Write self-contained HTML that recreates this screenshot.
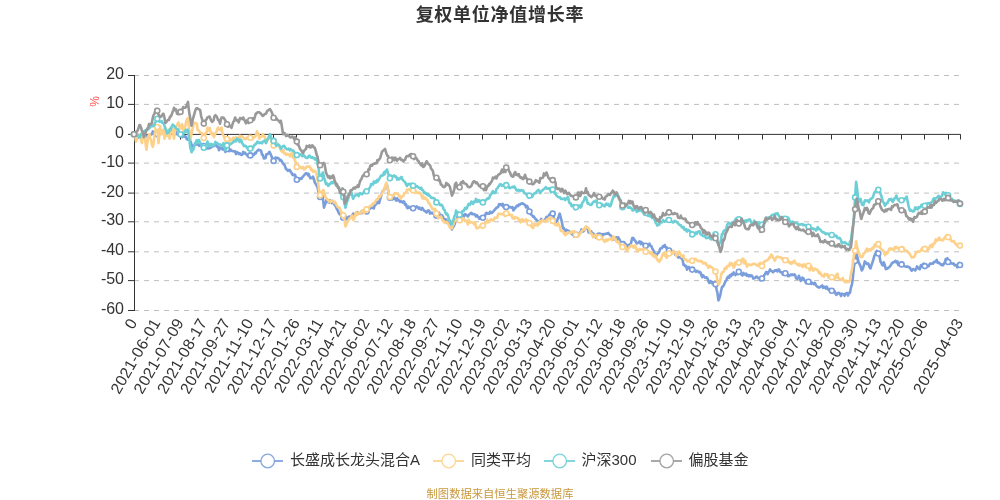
<!DOCTYPE html><html><head><meta charset="utf-8"><style>html,body{margin:0;padding:0;background:#fff;}body{width:1000px;height:500px;overflow:hidden;}svg{display:block;}text{font-family:"Liberation Sans","Noto Sans CJK SC",sans-serif;}</style></head><body>
<svg width="1000" height="500" viewBox="0 0 1000 500">
<rect width="1000" height="500" fill="#fff"/>
<text x="500" y="21" text-anchor="middle" font-size="18" font-weight="bold" letter-spacing="0.75" fill="#333">复权单位净值增长率</text>
<line x1="134" y1="75.5" x2="960" y2="75.5" stroke="#bfbfbf" stroke-width="1" stroke-dasharray="5,5"/>
<line x1="134" y1="104.4" x2="960" y2="104.4" stroke="#bfbfbf" stroke-width="1" stroke-dasharray="5,5"/>
<line x1="134" y1="163.1" x2="960" y2="163.1" stroke="#bfbfbf" stroke-width="1" stroke-dasharray="5,5"/>
<line x1="134" y1="193.1" x2="960" y2="193.1" stroke="#bfbfbf" stroke-width="1" stroke-dasharray="5,5"/>
<line x1="134" y1="221.8" x2="960" y2="221.8" stroke="#bfbfbf" stroke-width="1" stroke-dasharray="5,5"/>
<line x1="134" y1="251.8" x2="960" y2="251.8" stroke="#bfbfbf" stroke-width="1" stroke-dasharray="5,5"/>
<line x1="134" y1="280.6" x2="960" y2="280.6" stroke="#bfbfbf" stroke-width="1" stroke-dasharray="5,5"/>
<line x1="134" y1="310.5" x2="960" y2="310.5" stroke="#bfbfbf" stroke-width="1" stroke-dasharray="5,5"/>
<path d="M134.5 75V311" stroke="#333" stroke-width="1" fill="none"/>
<line x1="128" y1="75.5" x2="134" y2="75.5" stroke="#333" stroke-width="1"/>
<text x="124" y="79.0" text-anchor="end" font-size="16" fill="#333">20</text>
<line x1="128" y1="104.4" x2="134" y2="104.4" stroke="#333" stroke-width="1"/>
<text x="124" y="107.9" text-anchor="end" font-size="16" fill="#333">10</text>
<line x1="128" y1="134.4" x2="134" y2="134.4" stroke="#333" stroke-width="1"/>
<text x="124" y="137.9" text-anchor="end" font-size="16" fill="#333">0</text>
<line x1="128" y1="163.1" x2="134" y2="163.1" stroke="#333" stroke-width="1"/>
<text x="124" y="166.6" text-anchor="end" font-size="16" fill="#333">-10</text>
<line x1="128" y1="193.1" x2="134" y2="193.1" stroke="#333" stroke-width="1"/>
<text x="124" y="196.6" text-anchor="end" font-size="16" fill="#333">-20</text>
<line x1="128" y1="221.8" x2="134" y2="221.8" stroke="#333" stroke-width="1"/>
<text x="124" y="225.3" text-anchor="end" font-size="16" fill="#333">-30</text>
<line x1="128" y1="251.8" x2="134" y2="251.8" stroke="#333" stroke-width="1"/>
<text x="124" y="255.3" text-anchor="end" font-size="16" fill="#333">-40</text>
<line x1="128" y1="280.6" x2="134" y2="280.6" stroke="#333" stroke-width="1"/>
<text x="124" y="284.1" text-anchor="end" font-size="16" fill="#333">-50</text>
<line x1="128" y1="310.5" x2="134" y2="310.5" stroke="#333" stroke-width="1"/>
<text x="124" y="314.0" text-anchor="end" font-size="16" fill="#333">-60</text>
<text transform="translate(99,101.5) rotate(-90)" text-anchor="middle" font-size="12" fill="#f55">%</text>
<path d="M134 134.4H960.5" stroke="#333" stroke-width="1" fill="none"/>
<line x1="134.5" y1="134.4" x2="134.5" y2="139.5" stroke="#333" stroke-width="1"/>
<line x1="157.5" y1="134.4" x2="157.5" y2="139.5" stroke="#333" stroke-width="1"/>
<line x1="180.5" y1="134.4" x2="180.5" y2="139.5" stroke="#333" stroke-width="1"/>
<line x1="203.5" y1="134.4" x2="203.5" y2="139.5" stroke="#333" stroke-width="1"/>
<line x1="227.5" y1="134.4" x2="227.5" y2="139.5" stroke="#333" stroke-width="1"/>
<line x1="250.5" y1="134.4" x2="250.5" y2="139.5" stroke="#333" stroke-width="1"/>
<line x1="273.5" y1="134.4" x2="273.5" y2="139.5" stroke="#333" stroke-width="1"/>
<line x1="296.5" y1="134.4" x2="296.5" y2="139.5" stroke="#333" stroke-width="1"/>
<line x1="320.5" y1="134.4" x2="320.5" y2="139.5" stroke="#333" stroke-width="1"/>
<line x1="343.5" y1="134.4" x2="343.5" y2="139.5" stroke="#333" stroke-width="1"/>
<line x1="366.5" y1="134.4" x2="366.5" y2="139.5" stroke="#333" stroke-width="1"/>
<line x1="389.5" y1="134.4" x2="389.5" y2="139.5" stroke="#333" stroke-width="1"/>
<line x1="413.5" y1="134.4" x2="413.5" y2="139.5" stroke="#333" stroke-width="1"/>
<line x1="436.5" y1="134.4" x2="436.5" y2="139.5" stroke="#333" stroke-width="1"/>
<line x1="459.5" y1="134.4" x2="459.5" y2="139.5" stroke="#333" stroke-width="1"/>
<line x1="482.5" y1="134.4" x2="482.5" y2="139.5" stroke="#333" stroke-width="1"/>
<line x1="506.5" y1="134.4" x2="506.5" y2="139.5" stroke="#333" stroke-width="1"/>
<line x1="529.5" y1="134.4" x2="529.5" y2="139.5" stroke="#333" stroke-width="1"/>
<line x1="552.5" y1="134.4" x2="552.5" y2="139.5" stroke="#333" stroke-width="1"/>
<line x1="575.5" y1="134.4" x2="575.5" y2="139.5" stroke="#333" stroke-width="1"/>
<line x1="599.5" y1="134.4" x2="599.5" y2="139.5" stroke="#333" stroke-width="1"/>
<line x1="622.5" y1="134.4" x2="622.5" y2="139.5" stroke="#333" stroke-width="1"/>
<line x1="645.5" y1="134.4" x2="645.5" y2="139.5" stroke="#333" stroke-width="1"/>
<line x1="668.5" y1="134.4" x2="668.5" y2="139.5" stroke="#333" stroke-width="1"/>
<line x1="692.5" y1="134.4" x2="692.5" y2="139.5" stroke="#333" stroke-width="1"/>
<line x1="715.5" y1="134.4" x2="715.5" y2="139.5" stroke="#333" stroke-width="1"/>
<line x1="738.5" y1="134.4" x2="738.5" y2="139.5" stroke="#333" stroke-width="1"/>
<line x1="762.5" y1="134.4" x2="762.5" y2="139.5" stroke="#333" stroke-width="1"/>
<line x1="785.5" y1="134.4" x2="785.5" y2="139.5" stroke="#333" stroke-width="1"/>
<line x1="808.5" y1="134.4" x2="808.5" y2="139.5" stroke="#333" stroke-width="1"/>
<line x1="831.5" y1="134.4" x2="831.5" y2="139.5" stroke="#333" stroke-width="1"/>
<line x1="855.5" y1="134.4" x2="855.5" y2="139.5" stroke="#333" stroke-width="1"/>
<line x1="878.5" y1="134.4" x2="878.5" y2="139.5" stroke="#333" stroke-width="1"/>
<line x1="901.5" y1="134.4" x2="901.5" y2="139.5" stroke="#333" stroke-width="1"/>
<line x1="924.5" y1="134.4" x2="924.5" y2="139.5" stroke="#333" stroke-width="1"/>
<line x1="948.5" y1="134.4" x2="948.5" y2="139.5" stroke="#333" stroke-width="1"/>
<line x1="960.5" y1="134.4" x2="960.5" y2="139.5" stroke="#333" stroke-width="1"/>
<polyline points="134.0,134.2 134.9,133.2 135.8,132.6 136.7,134.1 137.6,136.1 138.5,137.8 139.4,137.6 140.0,137.2 141.2,138.2 142.1,139.1 142.9,137.6 143.8,136.7 144.7,135.6 146.0,135.7 146.5,136.6 147.4,135.9 148.3,135.5 149.2,136.9 150.1,135.2 151.0,134.4 152.0,134.2 152.8,131.4 153.7,132.5 154.6,133.4 155.5,132.4 156.4,133.0 157.3,134.2 158.2,132.7 159.1,133.5 159.9,133.2 160.8,131.9 161.7,131.5 163.0,132.8 163.5,132.5 164.4,134.2 165.3,133.5 166.2,133.7 167.1,133.1 168.0,134.2 168.9,133.6 169.8,132.3 170.7,132.8 171.6,132.7 172.5,132.0 173.4,133.6 174.0,132.8 175.2,133.6 176.1,134.2 177.0,131.6 177.8,132.8 178.8,132.6 179.6,132.6 180.5,134.2 181.4,134.8 182.3,137.1 183.2,135.6 184.1,136.6 185.0,136.0 186.0,137.2 186.8,139.2 187.7,139.7 188.6,138.3 189.5,137.6 190.0,140.1 191.3,143.8 192.2,146.6 193.0,146.0 194.0,146.1 194.8,144.8 195.8,144.7 196.6,144.3 198.0,144.5 199.3,145.9 200.2,145.0 201.1,143.9 202.0,145.3 202.9,147.3 203.8,146.0 204.7,147.5 205.6,146.4 206.5,148.8 207.4,148.4 208.0,147.5 209.2,148.5 210.1,147.9 211.0,147.5 211.9,146.9 212.8,144.8 214.0,146.0 214.5,145.4 215.4,144.4 216.3,145.6 217.2,146.8 218.1,146.6 219.0,150.3 220.0,147.5 220.8,148.2 221.7,147.9 222.6,149.5 223.5,148.5 224.4,149.2 225.3,151.9 226.2,150.9 227.0,148.9 228.0,150.8 228.9,151.1 229.8,151.0 230.7,149.5 232.0,151.0 233.3,151.1 234.2,151.5 235.1,151.4 236.0,154.0 236.9,152.0 238.0,152.8 238.7,154.0 239.6,153.1 240.5,154.4 241.4,155.0 242.3,154.7 243.2,151.9 244.0,153.3 245.0,152.6 245.9,154.1 246.8,154.7 247.7,156.1 248.6,155.7 249.4,156.3 250.3,155.4 251.2,154.2 252.1,155.6 253.0,154.9 253.9,154.9 255.0,152.8 255.7,153.4 256.6,151.5 257.5,150.8 258.4,149.7 259.0,150.1 260.2,150.2 261.1,150.8 262.0,154.6 262.9,155.0 263.8,158.5 265.0,158.3 265.6,157.9 266.4,154.2 267.3,154.1 268.2,153.6 269.5,151.9 270.0,152.8 270.9,154.9 271.8,156.9 272.7,159.8 273.6,161.0 274.5,159.0 275.4,157.6 276.3,157.8 277.0,157.8 278.1,158.3 279.0,158.7 280.0,160.7 280.8,160.0 281.7,161.1 283.0,163.6 284.3,164.6 285.2,166.7 286.1,169.3 287.0,169.5 287.9,170.9 288.8,170.1 289.7,169.9 291.0,172.4 291.5,172.6 292.4,174.6 293.3,175.2 294.2,174.5 295.1,174.9 296.0,178.1 296.8,179.8 297.8,179.3 298.7,180.6 300.0,178.3 301.4,178.9 302.2,177.3 303.1,176.3 304.0,175.4 304.9,174.3 305.8,173.3 306.7,173.2 308.0,175.4 308.5,173.8 309.4,176.0 310.3,178.2 311.2,177.7 312.0,178.3 313.0,176.6 313.9,178.9 314.8,182.6 316.0,184.2 316.6,185.7 317.5,187.0 318.4,191.8 319.2,193.6 320.1,197.1 321.0,195.7 322.0,193.0 322.8,197.7 324.0,207.7 324.6,205.3 325.5,203.7 326.4,200.1 327.0,201.8 328.2,201.8 329.1,202.6 330.0,200.1 331.0,201.8 331.8,203.1 332.7,200.9 333.6,202.5 334.5,204.9 335.0,204.8 336.2,207.6 337.1,209.4 338.0,211.2 339.0,213.6 339.8,214.5 340.7,214.0 341.6,218.1 342.5,218.7 343.3,217.7 344.3,219.3 345.0,219.4 346.1,216.6 347.0,219.2 347.9,218.4 349.0,216.5 349.7,217.9 350.6,217.7 351.5,216.0 352.4,215.3 353.2,213.5 354.1,214.9 355.0,215.0 355.9,214.4 356.8,212.9 357.7,212.3 358.6,213.3 360.0,213.6 361.3,211.7 362.2,213.2 363.1,210.6 364.0,211.1 364.9,211.5 365.8,211.1 366.6,211.5 367.6,209.7 368.5,207.5 369.4,208.3 370.3,208.6 371.1,207.4 372.0,207.7 372.9,207.7 373.8,208.4 374.7,205.4 375.6,204.8 376.5,202.3 377.4,203.1 378.0,201.8 379.2,203.0 380.1,199.3 381.0,196.7 381.9,192.7 382.8,191.0 384.0,190.1 384.6,188.5 385.5,186.6 386.4,186.0 387.0,185.1 388.1,190.1 389.1,195.7 389.9,198.0 390.8,197.8 391.7,199.1 392.6,199.4 393.5,198.3 394.4,197.5 395.0,198.9 396.2,200.6 397.1,198.3 398.0,200.3 398.9,200.0 400.0,201.8 400.7,200.9 401.6,201.8 402.5,202.5 403.4,201.3 404.3,201.9 405.0,204.8 406.1,204.4 406.9,207.5 407.8,208.2 408.7,206.6 410.0,207.7 410.5,207.5 411.4,208.9 412.3,209.4 413.1,208.3 414.1,208.7 415.0,207.6 415.9,207.2 416.8,206.3 418.0,207.7 418.6,208.7 419.5,207.6 420.4,209.0 421.3,209.7 422.2,207.9 423.1,209.1 424.0,210.6 424.9,211.0 425.7,211.7 426.6,212.5 427.5,210.8 428.4,210.3 429.3,211.0 430.0,213.6 431.1,213.3 432.0,212.7 432.9,213.7 433.8,213.8 434.7,214.1 435.6,214.7 436.4,215.6 437.4,213.8 438.3,212.8 439.2,212.8 440.1,216.7 441.0,216.5 441.9,215.2 442.7,216.2 443.6,218.5 444.5,219.7 445.4,219.3 446.3,219.5 447.0,222.4 448.1,222.6 449.0,224.3 449.9,225.9 450.8,226.5 452.0,229.4 452.6,227.8 453.5,226.7 454.4,224.8 455.3,222.1 456.0,219.4 457.1,218.7 458.0,215.7 458.9,218.1 459.6,217.7 460.6,216.8 461.5,217.0 462.4,216.5 463.3,214.8 464.0,216.5 465.1,214.2 466.0,214.7 466.9,215.3 467.8,216.4 468.7,215.2 470.0,213.6 471.4,212.9 472.3,214.3 473.2,214.1 474.1,214.1 475.0,214.7 476.0,216.5 476.8,215.1 477.6,216.1 478.5,217.5 479.4,218.8 480.3,217.1 481.2,217.7 482.1,218.1 482.9,217.7 483.9,216.0 484.8,216.6 485.7,213.6 486.6,212.9 487.5,213.6 488.0,213.6 489.3,213.6 490.2,211.6 491.1,213.0 492.0,212.9 492.9,211.9 494.0,210.6 494.6,209.9 495.5,209.0 496.4,207.7 497.3,207.5 498.2,206.7 499.1,204.2 500.0,204.8 500.9,204.1 501.8,205.4 502.7,203.8 503.6,207.3 504.5,207.0 505.4,206.3 506.2,207.1 507.2,206.0 508.1,206.5 509.0,207.4 509.9,206.8 510.8,207.4 512.0,207.7 512.5,207.0 513.4,210.4 514.3,208.3 515.2,208.5 516.1,206.5 517.0,205.5 518.0,206.2 518.8,204.6 519.7,204.9 520.6,203.8 521.5,203.7 522.0,203.3 523.3,203.7 524.2,204.4 525.0,204.8 526.0,207.3 526.9,205.8 527.8,207.2 528.6,211.8 529.4,211.5 530.4,211.8 531.3,214.8 532.2,215.5 533.1,216.7 534.0,216.5 534.9,218.5 535.8,218.9 536.7,220.3 537.6,220.9 538.5,222.7 539.4,221.9 540.3,221.0 541.2,218.9 542.0,220.9 543.0,220.3 543.9,221.0 544.8,220.1 546.0,218.0 546.5,216.9 547.5,217.3 548.3,216.9 549.0,215.0 550.1,214.1 551.0,214.0 551.9,213.5 552.7,213.6 553.7,217.1 554.6,220.3 555.5,222.7 556.0,223.0 557.3,220.1 558.2,218.0 559.1,215.0 559.7,213.6 560.9,218.1 561.8,221.8 563.0,228.2 563.6,227.8 564.5,229.6 565.4,231.1 566.2,229.8 567.1,230.2 568.0,230.6 569.0,231.2 569.8,232.9 570.7,233.0 571.6,233.8 572.5,234.7 573.4,235.1 574.3,236.5 575.2,235.7 576.0,234.7 577.0,233.0 577.9,233.8 578.8,233.1 579.7,233.8 580.6,232.0 581.5,229.3 582.0,231.2 583.2,231.5 584.1,230.8 585.0,228.2 585.9,227.8 587.0,228.2 587.7,228.8 588.6,232.4 589.5,232.6 590.4,231.9 591.3,231.4 592.0,234.1 593.1,233.3 594.0,234.6 594.9,235.6 595.8,237.5 596.7,237.8 597.6,235.4 598.5,235.7 599.2,235.6 600.2,236.9 601.1,234.4 602.0,236.5 602.9,234.0 603.8,234.5 605.0,234.1 605.6,233.9 606.5,233.5 607.4,233.8 608.3,233.0 609.2,234.1 610.1,235.1 611.0,235.6 611.9,237.0 612.8,239.0 613.7,239.5 614.6,238.1 615.5,237.9 616.4,237.3 617.0,240.0 618.1,237.3 619.0,238.7 619.9,240.1 620.8,243.2 621.7,244.0 622.5,244.1 623.5,242.0 624.4,242.8 625.3,244.1 626.2,244.5 627.1,247.4 627.6,245.9 628.9,245.0 629.8,244.5 630.7,244.5 631.6,240.5 632.4,237.9 633.4,238.1 634.2,239.7 635.1,240.5 636.0,242.1 636.9,243.5 637.8,242.9 638.7,242.4 639.6,241.3 640.8,244.1 641.4,242.1 642.3,242.9 643.2,244.1 644.1,245.8 645.0,246.6 645.8,245.9 646.8,245.3 647.7,244.9 648.6,245.3 649.5,243.6 650.4,245.9 651.3,246.1 652.1,248.0 653.0,249.9 653.9,251.3 654.8,253.9 655.7,255.9 656.4,255.3 657.5,253.5 658.4,252.9 659.3,251.7 660.2,248.6 661.2,248.2 662.0,248.1 662.9,246.2 663.8,246.7 664.7,245.0 665.4,247.1 666.5,247.2 667.4,250.5 668.3,249.2 669.1,250.6 670.0,250.9 670.9,253.2 671.8,252.1 673.2,251.2 674.5,252.5 675.4,254.9 676.8,254.7 678.1,257.4 679.0,257.5 679.9,257.1 680.8,257.8 681.7,258.6 682.6,259.7 683.5,265.0 684.0,264.4 685.3,266.3 686.2,266.1 687.0,269.7 688.0,267.8 688.8,266.9 689.7,268.7 690.6,269.4 691.5,270.7 692.3,269.7 693.3,270.2 694.2,270.3 695.1,270.5 696.0,271.9 697.0,270.8 697.8,271.2 698.7,272.3 699.6,271.8 700.5,272.5 701.4,275.3 702.3,277.1 703.0,275.2 704.1,276.5 705.0,277.6 705.9,277.5 706.7,277.4 707.6,278.6 708.5,281.5 709.4,283.0 710.0,281.1 711.2,281.5 712.1,283.4 713.0,282.1 713.9,283.1 714.8,283.1 715.6,284.4 716.6,289.6 717.5,293.3 718.4,300.4 719.0,299.3 720.2,295.4 721.1,290.7 722.0,287.0 722.9,286.5 723.7,285.5 724.6,283.3 725.5,281.2 726.4,280.4 727.0,278.2 728.2,276.5 729.1,277.9 730.0,275.1 730.9,276.2 732.0,273.8 732.7,274.8 733.6,272.4 734.5,273.7 735.4,275.1 736.3,273.7 737.2,274.0 738.1,274.2 738.9,271.7 739.9,273.3 740.8,274.0 741.6,274.8 742.5,275.5 743.4,272.9 744.0,273.8 745.2,274.8 746.1,273.5 747.0,275.7 747.9,274.8 748.8,276.4 750.0,275.2 750.6,276.2 751.5,275.3 752.4,276.3 753.3,278.6 754.2,278.3 755.1,277.8 756.0,276.7 756.9,276.5 757.8,278.1 758.6,278.3 759.5,278.1 760.4,280.2 761.3,279.6 762.1,278.5 763.1,278.1 764.0,275.6 764.9,274.2 766.0,272.3 766.7,272.0 767.6,274.1 768.5,272.2 769.4,271.2 770.0,269.4 771.2,271.0 772.1,271.2 773.0,272.3 773.9,271.3 774.8,270.3 776.0,270.8 776.5,270.2 777.4,271.4 778.3,269.6 779.2,269.6 780.1,271.9 781.0,272.2 782.0,272.3 782.8,274.5 783.7,274.0 784.6,272.8 785.4,273.2 786.4,272.1 787.3,273.7 788.2,276.3 789.1,276.1 790.0,275.2 790.9,274.3 791.8,275.2 792.6,274.5 793.5,274.9 794.4,274.4 795.3,275.5 796.0,278.2 797.1,278.9 798.0,278.4 798.9,275.8 799.8,278.0 800.7,280.9 802.0,279.7 802.5,277.6 803.4,278.4 804.3,280.2 805.2,281.2 806.1,283.1 807.0,281.5 807.9,281.5 808.7,281.7 809.7,282.9 810.5,283.4 811.5,283.9 812.3,282.6 813.2,283.6 814.0,284.1 815.0,282.9 815.9,285.1 816.8,286.2 817.7,286.9 818.6,287.5 819.5,287.5 820.0,287.0 821.3,286.2 822.2,285.5 823.1,287.9 824.0,286.6 824.9,287.3 826.0,288.5 826.7,286.7 827.5,288.2 828.5,289.9 829.3,289.1 830.2,289.1 831.1,290.4 831.9,290.8 832.9,291.1 833.8,291.3 834.7,291.3 835.6,293.8 836.5,294.8 837.4,293.9 838.0,292.9 839.2,293.1 840.1,293.9 841.0,296.0 841.9,293.6 842.8,294.3 844.0,294.3 844.6,295.8 845.5,293.6 846.4,293.1 847.2,293.0 848.0,295.5 849.0,292.8 850.0,292.9 850.8,288.1 851.7,285.4 852.5,281.1 854.0,266.4 855.2,260.3 856.2,256.4 856.7,254.4 858.0,259.4 858.5,262.0 859.8,264.6 860.7,266.8 861.7,270.5 862.5,269.3 863.4,267.0 864.2,264.2 864.8,261.4 866.0,262.6 866.9,263.9 868.3,263.5 869.6,267.2 870.5,268.5 871.1,266.4 872.3,262.9 873.2,260.2 874.1,256.8 875.3,253.8 875.9,254.7 876.7,250.9 877.7,253.3 878.5,253.8 879.5,255.9 880.4,261.4 881.6,263.5 882.1,264.8 883.0,265.5 883.7,262.3 884.8,265.0 885.8,269.1 886.6,268.4 887.5,268.6 888.4,267.6 889.3,267.1 890.0,266.4 891.1,264.7 892.0,263.2 892.9,262.4 893.8,262.4 894.7,261.6 895.6,260.9 896.3,262.3 897.4,261.4 898.2,265.0 899.0,264.4 900.0,264.2 900.9,264.2 901.7,264.4 902.7,264.8 903.6,265.7 905.0,266.4 906.3,266.9 907.2,266.6 908.1,266.8 909.0,267.2 910.0,267.9 910.8,269.4 911.7,270.7 913.0,269.1 914.4,269.4 915.2,270.4 916.1,269.1 917.0,266.4 917.9,267.4 918.8,268.6 919.7,269.3 921.0,265.0 921.5,266.3 922.4,266.7 923.3,263.8 924.2,263.9 925.0,266.1 926.0,266.2 926.9,266.1 927.8,266.4 928.7,266.1 930.0,263.5 931.4,263.8 932.3,263.3 933.1,263.6 934.0,261.9 935.0,262.0 935.8,261.5 936.7,259.8 937.6,262.8 938.5,262.3 939.4,263.3 940.0,263.5 941.2,265.0 942.1,264.3 943.0,265.3 943.9,263.9 945.0,262.0 945.7,259.1 946.6,258.9 947.5,258.2 948.3,262.0 949.3,260.4 950.2,263.5 951.0,263.0 952.0,263.5 952.8,263.6 953.7,263.5 954.6,265.3 956.0,265.0 957.3,267.4 958.2,263.9 959.1,263.0 960.0,265.0" fill="none" stroke="#7a9edb" stroke-width="2.6" stroke-linejoin="round"/>
<circle cx="134.0" cy="134.2" r="2.5" fill="#fff" stroke="#7a9edb" stroke-width="1.6"/>
<circle cx="157.3" cy="134.2" r="2.5" fill="#fff" stroke="#7a9edb" stroke-width="1.6"/>
<circle cx="180.5" cy="134.3" r="2.5" fill="#fff" stroke="#7a9edb" stroke-width="1.6"/>
<circle cx="203.8" cy="146.0" r="2.5" fill="#fff" stroke="#7a9edb" stroke-width="1.6"/>
<circle cx="227.0" cy="149.0" r="2.5" fill="#fff" stroke="#7a9edb" stroke-width="1.6"/>
<circle cx="250.3" cy="155.4" r="2.5" fill="#fff" stroke="#7a9edb" stroke-width="1.6"/>
<circle cx="273.6" cy="160.9" r="2.5" fill="#fff" stroke="#7a9edb" stroke-width="1.6"/>
<circle cx="296.8" cy="179.8" r="2.5" fill="#fff" stroke="#7a9edb" stroke-width="1.6"/>
<circle cx="320.1" cy="197.0" r="2.5" fill="#fff" stroke="#7a9edb" stroke-width="1.6"/>
<circle cx="343.3" cy="217.7" r="2.5" fill="#fff" stroke="#7a9edb" stroke-width="1.6"/>
<circle cx="366.6" cy="211.5" r="2.5" fill="#fff" stroke="#7a9edb" stroke-width="1.6"/>
<circle cx="389.9" cy="197.8" r="2.5" fill="#fff" stroke="#7a9edb" stroke-width="1.6"/>
<circle cx="413.1" cy="208.3" r="2.5" fill="#fff" stroke="#7a9edb" stroke-width="1.6"/>
<circle cx="436.4" cy="215.6" r="2.5" fill="#fff" stroke="#7a9edb" stroke-width="1.6"/>
<circle cx="459.6" cy="217.7" r="2.5" fill="#fff" stroke="#7a9edb" stroke-width="1.6"/>
<circle cx="482.9" cy="217.7" r="2.5" fill="#fff" stroke="#7a9edb" stroke-width="1.6"/>
<circle cx="506.2" cy="207.1" r="2.5" fill="#fff" stroke="#7a9edb" stroke-width="1.6"/>
<circle cx="529.4" cy="211.5" r="2.5" fill="#fff" stroke="#7a9edb" stroke-width="1.6"/>
<circle cx="552.7" cy="213.6" r="2.5" fill="#fff" stroke="#7a9edb" stroke-width="1.6"/>
<circle cx="575.9" cy="234.7" r="2.5" fill="#fff" stroke="#7a9edb" stroke-width="1.6"/>
<circle cx="599.2" cy="235.6" r="2.5" fill="#fff" stroke="#7a9edb" stroke-width="1.6"/>
<circle cx="622.5" cy="244.1" r="2.5" fill="#fff" stroke="#7a9edb" stroke-width="1.6"/>
<circle cx="645.7" cy="245.8" r="2.5" fill="#fff" stroke="#7a9edb" stroke-width="1.6"/>
<circle cx="669.0" cy="250.5" r="2.5" fill="#fff" stroke="#7a9edb" stroke-width="1.6"/>
<circle cx="692.2" cy="269.6" r="2.5" fill="#fff" stroke="#7a9edb" stroke-width="1.6"/>
<circle cx="715.5" cy="284.3" r="2.5" fill="#fff" stroke="#7a9edb" stroke-width="1.6"/>
<circle cx="738.8" cy="271.8" r="2.5" fill="#fff" stroke="#7a9edb" stroke-width="1.6"/>
<circle cx="762.0" cy="278.5" r="2.5" fill="#fff" stroke="#7a9edb" stroke-width="1.6"/>
<circle cx="785.3" cy="273.2" r="2.5" fill="#fff" stroke="#7a9edb" stroke-width="1.6"/>
<circle cx="808.5" cy="281.7" r="2.5" fill="#fff" stroke="#7a9edb" stroke-width="1.6"/>
<circle cx="831.8" cy="290.8" r="2.5" fill="#fff" stroke="#7a9edb" stroke-width="1.6"/>
<circle cx="855.1" cy="261.0" r="2.5" fill="#fff" stroke="#7a9edb" stroke-width="1.6"/>
<circle cx="878.3" cy="253.5" r="2.5" fill="#fff" stroke="#7a9edb" stroke-width="1.6"/>
<circle cx="901.6" cy="264.4" r="2.5" fill="#fff" stroke="#7a9edb" stroke-width="1.6"/>
<circle cx="924.8" cy="266.1" r="2.5" fill="#fff" stroke="#7a9edb" stroke-width="1.6"/>
<circle cx="948.1" cy="262.0" r="2.5" fill="#fff" stroke="#7a9edb" stroke-width="1.6"/>
<circle cx="960.0" cy="265.0" r="2.5" fill="#fff" stroke="#7a9edb" stroke-width="1.6"/>
<polyline points="134.0,134.2 134.9,134.4 136.0,141.6 136.7,139.5 138.0,134.2 139.4,135.8 140.0,137.2 141.2,140.3 142.0,143.1 142.9,135.4 143.5,132.8 145.0,137.2 145.6,144.3 146.5,149.8 147.4,142.9 148.0,137.2 149.5,134.2 150.1,137.7 151.0,140.1 151.9,144.8 153.0,146.9 153.7,142.4 154.5,134.2 155.5,131.3 156.0,128.4 157.3,126.9 158.5,143.1 159.1,137.2 160.0,126.3 160.8,132.1 161.5,134.2 163.0,129.8 163.5,132.5 164.5,138.7 165.3,133.7 166.0,128.4 167.1,136.0 168.0,134.2 168.9,136.0 169.5,138.7 171.0,131.3 171.6,130.6 172.5,128.4 173.4,135.5 174.0,138.7 175.5,126.9 176.1,126.1 177.0,125.4 177.8,123.4 178.5,122.5 179.6,127.4 180.5,131.3 181.4,127.9 182.0,124.0 183.2,127.5 184.0,129.8 185.0,128.2 186.0,122.5 186.8,119.2 188.0,118.1 188.6,124.8 189.5,132.4 190.4,139.5 191.3,135.2 192.0,131.3 193.1,126.5 194.0,122.8 194.8,123.4 195.8,123.0 197.0,124.0 197.5,129.9 198.4,130.1 199.3,131.2 200.2,133.0 200.8,132.5 202.0,133.2 202.9,137.0 203.8,138.1 204.7,135.7 205.5,132.8 206.5,133.1 207.5,127.5 208.3,128.1 209.2,130.6 210.0,128.4 211.0,133.9 212.0,134.2 212.8,132.8 214.0,137.2 214.5,134.8 215.4,133.6 216.0,132.8 217.2,129.4 218.0,127.5 219.0,129.6 219.9,130.2 220.8,128.6 221.6,127.5 222.6,134.2 223.5,135.6 224.8,138.7 226.2,141.6 227.0,138.9 228.0,140.4 228.9,142.8 229.6,141.6 230.7,139.1 232.0,140.1 233.3,137.7 234.2,138.5 235.1,140.6 236.0,137.2 236.9,138.5 237.8,137.7 238.7,138.3 240.0,135.7 241.4,136.9 242.3,136.3 243.2,137.7 244.0,138.7 245.0,139.2 245.9,137.9 246.8,138.6 247.7,137.3 248.6,138.2 249.4,136.0 250.3,137.8 251.2,137.9 252.1,139.2 253.0,138.3 254.0,137.2 254.8,136.8 255.7,135.9 257.0,131.3 257.5,133.0 258.4,133.6 259.3,138.6 260.0,137.2 261.1,136.8 262.0,136.0 263.0,134.2 263.8,136.2 264.7,136.9 266.0,140.1 267.3,141.0 268.2,138.8 269.1,138.5 270.0,137.2 270.9,139.5 271.8,142.0 272.7,144.5 273.6,145.7 274.5,146.8 275.4,146.0 276.3,143.3 277.2,143.3 278.0,146.0 279.0,146.0 279.9,147.4 280.8,150.1 282.0,151.9 282.6,151.6 283.4,149.9 284.3,153.8 285.2,153.4 286.0,154.8 287.0,153.8 287.9,154.5 288.8,154.4 290.0,156.3 290.6,154.6 291.5,153.1 292.4,153.7 293.0,157.8 294.2,157.9 295.1,160.9 296.0,162.9 296.8,166.9 297.8,166.3 298.7,166.1 300.0,166.6 301.4,168.2 302.2,167.7 303.1,166.8 304.0,169.5 304.9,168.8 305.8,167.9 306.7,166.6 308.0,166.6 308.5,166.8 309.4,166.4 310.3,167.3 311.2,170.0 312.0,169.5 313.0,171.8 313.9,170.9 314.8,170.7 316.0,172.4 316.6,174.0 317.5,179.5 318.4,184.7 319.2,192.3 320.1,195.3 321.0,192.1 321.9,192.5 323.0,190.1 323.7,190.4 324.6,194.5 325.5,197.0 326.4,198.2 327.0,198.9 328.2,200.5 329.1,201.8 330.0,200.7 331.0,201.8 331.8,200.9 332.7,200.8 333.6,201.8 334.5,202.9 335.0,201.8 336.2,204.5 337.1,206.2 338.0,207.0 339.0,207.7 339.8,208.2 340.7,210.4 341.6,213.1 342.5,215.1 343.3,215.0 344.3,218.8 345.5,226.5 346.1,224.9 347.0,223.0 347.9,221.1 349.0,219.4 349.7,218.2 350.6,218.0 351.5,216.3 352.4,215.7 353.2,220.0 354.1,218.6 355.0,216.5 355.9,212.3 356.8,215.1 357.7,214.6 358.6,212.8 360.0,213.6 361.3,212.5 362.2,210.3 363.1,212.3 364.0,213.1 364.9,211.9 365.8,211.7 366.6,209.4 367.6,210.3 368.5,208.0 369.4,206.8 370.3,206.1 371.1,205.9 372.0,204.8 372.9,203.6 373.8,203.0 374.7,203.1 375.6,201.1 376.5,199.8 377.4,199.0 378.0,198.9 379.2,196.1 380.1,196.7 381.0,195.2 381.9,194.2 382.8,190.7 384.0,190.1 384.6,188.4 385.5,184.6 386.4,182.7 387.0,185.7 388.1,190.0 389.1,195.1 389.9,197.1 390.8,195.9 391.7,195.8 392.6,195.2 393.5,195.8 394.4,193.5 395.0,193.0 396.2,193.5 397.1,193.6 398.0,194.0 398.9,196.1 400.0,195.9 400.7,198.6 401.6,197.1 402.5,196.5 403.4,195.7 404.3,193.1 405.0,193.0 406.1,192.5 406.9,189.9 407.8,190.0 408.7,189.2 410.0,190.1 410.5,189.2 411.4,188.6 412.3,191.1 413.1,190.4 414.1,189.6 415.0,190.5 415.9,192.7 416.8,192.0 418.0,193.0 418.6,193.1 419.5,192.5 420.4,193.3 421.3,194.6 422.2,198.3 423.1,196.4 424.0,198.9 424.9,197.5 425.7,198.3 426.6,199.6 427.5,199.7 428.4,202.9 429.3,203.0 430.0,204.8 431.1,206.1 432.0,208.7 432.9,208.9 433.8,209.6 434.7,208.8 435.6,209.8 436.4,213.6 437.4,215.9 438.3,218.3 439.2,217.4 440.1,217.3 441.0,216.5 441.9,218.8 442.7,220.9 443.6,220.8 444.5,222.5 445.4,223.1 446.3,221.8 447.0,222.4 448.1,223.4 449.0,225.6 449.9,227.7 450.8,228.2 452.0,228.2 452.6,224.9 453.5,224.5 454.4,220.5 455.3,220.7 456.0,219.4 457.1,219.9 458.0,219.1 458.9,220.7 459.6,220.3 460.6,220.1 461.5,221.7 462.4,219.9 463.3,218.1 464.0,219.4 465.1,220.6 466.0,220.5 466.9,221.5 467.8,224.5 468.7,219.9 470.0,222.4 471.4,222.2 472.3,222.3 473.2,223.2 474.1,224.3 475.0,222.3 476.0,226.8 476.8,228.5 477.6,227.9 478.5,227.7 479.4,227.2 480.3,225.7 481.2,226.6 482.1,227.9 482.9,225.6 483.9,226.8 484.8,224.8 485.7,222.8 486.6,221.6 487.5,219.7 488.0,222.4 489.3,221.9 490.2,220.1 491.1,219.3 492.0,219.8 492.9,220.6 494.0,219.4 494.6,217.7 495.5,218.3 496.4,217.6 497.3,217.8 498.2,213.9 499.1,213.7 500.0,213.6 500.9,214.1 501.8,214.1 502.7,214.1 503.6,213.6 504.5,215.7 505.4,216.2 506.2,213.3 507.2,213.4 508.1,212.3 509.0,214.6 509.9,214.5 510.8,215.5 512.0,215.0 512.5,218.4 513.4,217.9 514.3,218.8 515.2,216.9 516.1,217.5 517.0,217.8 518.0,218.0 518.8,220.4 519.7,219.7 520.6,222.3 521.5,221.1 522.4,219.1 523.3,221.6 524.0,220.9 525.1,220.4 526.0,219.3 526.9,221.0 527.8,220.3 528.6,221.4 529.4,223.0 530.4,223.9 531.3,226.7 532.2,227.2 533.1,228.2 534.0,223.8 535.0,225.3 535.8,224.4 536.7,224.4 537.6,225.8 538.5,222.3 539.4,224.0 540.3,221.2 541.0,222.4 542.1,220.2 543.0,220.4 543.9,221.3 544.8,220.8 545.7,222.0 547.0,219.4 548.3,219.2 549.2,217.5 550.1,217.7 551.0,217.7 551.9,220.1 552.7,220.9 553.7,221.4 554.6,223.9 555.5,225.0 556.4,224.4 557.0,225.3 558.2,223.1 559.1,225.4 560.0,227.1 560.9,231.0 561.8,230.8 563.0,231.2 563.6,232.7 564.5,234.1 565.4,235.2 566.2,233.7 567.1,233.7 568.0,232.3 569.0,232.7 569.8,233.2 570.7,233.3 571.6,231.6 572.5,231.6 573.4,231.8 574.3,231.1 575.2,232.5 576.0,234.7 577.0,235.1 577.9,235.2 578.8,236.0 579.7,233.7 580.6,233.2 581.5,231.5 582.0,231.2 583.2,229.1 584.1,229.9 585.0,228.7 585.9,226.3 587.0,227.1 587.7,227.7 588.6,227.9 589.5,230.1 590.4,232.8 591.3,234.0 592.0,234.1 593.1,237.3 594.0,235.5 594.9,236.4 595.8,234.6 596.7,237.2 597.6,237.0 598.5,236.8 599.2,237.4 600.0,236.8 601.1,237.6 602.0,237.4 602.9,239.0 603.8,240.5 604.7,242.0 606.0,239.7 606.5,240.7 607.4,240.8 608.3,239.2 609.2,239.0 610.1,239.1 611.0,239.0 611.9,240.3 613.2,236.2 614.6,238.8 615.5,238.8 616.4,241.5 617.2,242.1 618.1,241.6 619.2,242.9 619.9,244.7 620.8,245.2 621.7,246.8 622.5,247.1 623.5,244.8 624.4,245.2 625.3,246.0 626.2,249.4 627.0,251.2 628.0,248.7 628.9,248.2 629.8,246.6 630.7,246.4 631.2,245.3 632.5,245.9 633.4,247.6 634.2,247.3 635.1,245.4 636.0,248.2 636.9,250.0 637.8,251.5 638.7,249.9 639.6,248.9 640.5,250.0 641.4,249.5 642.3,249.5 643.2,249.5 644.1,248.6 645.0,250.9 645.8,251.8 646.8,250.9 647.7,251.1 648.6,252.5 649.5,251.7 650.4,253.7 651.6,252.3 652.1,255.3 653.0,254.0 653.9,256.8 654.8,255.1 655.7,255.6 656.6,258.5 657.6,260.3 658.4,260.4 659.3,261.9 660.2,259.3 661.1,259.5 662.4,254.7 663.8,252.9 664.7,255.7 665.6,254.8 666.5,258.0 667.4,256.5 668.3,253.4 669.1,253.5 670.0,253.8 670.9,254.3 671.8,254.0 672.7,252.6 673.6,251.0 674.4,251.8 675.4,252.6 676.3,255.9 677.2,254.9 678.1,253.7 679.0,251.5 679.9,253.5 680.8,254.9 681.7,256.8 682.6,256.5 683.5,255.2 684.0,258.5 685.3,259.7 686.2,259.5 687.0,261.0 688.0,261.5 688.8,261.1 689.7,260.2 690.6,261.5 691.5,261.7 692.3,260.9 693.3,259.1 694.2,259.1 695.1,258.9 696.0,259.1 697.0,260.6 697.8,261.0 698.7,260.8 699.6,260.8 700.5,261.7 701.4,261.0 702.3,262.2 703.0,263.5 704.1,262.6 705.0,263.5 705.9,263.3 706.7,265.2 707.6,266.3 708.5,267.9 709.4,265.7 710.0,266.4 711.2,266.8 712.1,267.7 713.0,268.1 713.9,270.6 714.8,271.1 715.6,271.7 716.6,276.1 717.5,281.6 718.4,284.0 719.0,284.4 720.2,281.2 721.1,275.0 722.0,272.3 722.9,272.2 723.7,271.6 724.6,268.6 725.5,267.9 726.4,268.8 727.0,266.4 728.2,265.7 729.1,266.2 730.0,262.9 730.9,264.6 732.0,263.5 732.7,264.5 733.6,267.6 734.5,266.5 735.4,262.4 736.3,262.7 737.2,264.0 738.1,263.0 738.9,262.6 739.9,263.2 740.8,263.2 741.6,259.9 742.5,258.8 743.4,258.8 744.0,263.5 745.2,260.8 746.1,263.6 747.0,266.7 747.9,264.8 748.8,264.3 750.0,265.0 750.6,264.9 751.5,265.1 752.4,264.1 753.3,263.7 754.2,263.9 755.1,263.7 756.0,265.0 756.9,265.2 757.8,265.9 758.6,263.9 759.5,265.1 760.4,262.8 761.3,263.5 762.1,266.1 763.1,264.2 764.0,261.6 764.9,261.8 766.0,260.6 766.7,260.3 767.6,260.0 768.5,259.1 769.4,257.3 770.0,257.6 771.2,254.7 772.1,255.3 773.0,257.8 773.9,258.8 774.8,260.7 776.0,257.6 776.5,257.3 777.4,256.5 778.3,257.0 779.2,257.3 780.1,257.3 781.0,257.5 782.0,259.1 782.8,258.3 783.7,258.8 784.6,260.8 785.4,260.3 786.4,259.5 787.3,258.6 788.2,262.2 789.1,262.5 790.0,262.0 790.9,263.9 791.8,262.7 792.6,263.2 793.5,261.3 794.4,260.7 795.3,262.7 796.0,263.5 797.1,264.3 798.0,265.1 798.9,264.0 799.8,265.6 800.7,264.7 802.0,265.0 802.5,266.9 803.4,264.8 804.3,264.4 805.2,266.5 806.1,267.2 807.0,266.4 807.9,265.8 808.7,265.9 809.7,270.4 810.5,268.9 811.5,266.7 812.3,268.3 813.2,270.7 814.0,269.4 815.0,268.5 815.9,269.3 816.8,269.9 817.7,269.9 818.6,272.6 819.5,273.5 820.0,272.3 821.3,274.7 822.2,275.9 823.1,275.6 824.0,276.7 824.9,273.9 826.0,275.2 826.7,274.7 827.5,274.2 828.5,277.5 829.3,277.5 830.2,277.5 831.1,277.3 831.9,277.3 832.9,276.9 833.8,278.4 834.7,279.4 835.6,277.5 836.5,274.7 837.4,273.5 838.0,278.2 839.2,278.4 840.1,280.1 841.0,279.9 841.9,279.6 842.8,277.9 844.0,281.1 844.6,281.1 845.5,282.3 846.4,280.6 847.2,282.1 848.0,281.7 849.0,281.9 850.0,279.7 850.8,274.8 851.7,270.6 852.5,266.4 854.0,254.7 855.2,250.3 856.1,241.2 857.1,247.4 858.0,250.3 858.9,252.8 859.8,255.0 860.7,256.8 861.3,257.3 862.5,256.7 863.4,254.0 864.2,253.2 865.1,252.4 866.2,249.7 866.9,248.6 867.8,250.6 868.7,249.5 869.6,249.2 870.4,250.6 871.4,249.4 872.3,247.8 873.2,248.6 874.1,246.1 874.6,244.7 875.9,246.0 876.8,246.4 877.7,245.0 878.5,244.1 879.5,247.0 880.4,247.9 881.6,249.7 882.1,250.1 883.0,250.3 883.9,252.0 885.1,255.3 885.7,252.9 886.6,253.7 887.5,253.1 888.4,251.0 889.3,248.6 890.0,249.7 891.1,248.3 892.0,249.0 892.9,249.9 893.8,250.1 894.7,247.2 895.6,248.2 896.3,246.8 897.4,248.3 898.2,248.1 899.0,249.4 900.0,248.7 900.9,250.0 901.7,249.4 902.7,247.1 903.6,248.3 905.0,250.3 906.3,250.8 907.2,250.8 908.1,252.7 909.0,252.7 910.0,254.7 910.8,255.4 911.7,257.4 913.0,257.3 914.4,256.9 915.2,254.5 916.1,253.0 917.0,251.8 917.9,251.6 918.8,251.8 919.7,251.5 921.0,250.3 921.5,249.2 922.4,247.8 923.3,248.7 924.2,248.4 925.0,248.8 926.0,250.6 926.9,250.5 927.8,249.7 928.7,249.3 930.0,245.9 931.4,244.6 932.3,247.1 933.1,244.8 934.0,243.0 935.0,242.9 935.8,239.4 936.7,240.9 937.6,240.2 938.5,238.3 939.4,237.7 940.0,240.0 941.2,240.1 942.1,239.7 943.0,240.3 943.9,238.8 945.0,237.1 945.7,236.4 946.6,235.0 947.5,235.3 948.3,237.4 949.3,236.9 950.2,237.2 951.0,240.3 952.0,241.5 952.8,241.2 953.7,240.9 954.6,242.7 956.0,244.4 957.3,245.9 958.2,245.5 959.1,245.4 960.0,245.6" fill="none" stroke="#fdd18a" stroke-width="2.6" stroke-linejoin="round"/>
<circle cx="134.0" cy="134.2" r="2.5" fill="#fff" stroke="#fdd18a" stroke-width="1.6"/>
<circle cx="157.3" cy="127.0" r="2.5" fill="#fff" stroke="#fdd18a" stroke-width="1.6"/>
<circle cx="180.5" cy="131.2" r="2.5" fill="#fff" stroke="#fdd18a" stroke-width="1.6"/>
<circle cx="203.8" cy="138.0" r="2.5" fill="#fff" stroke="#fdd18a" stroke-width="1.6"/>
<circle cx="227.0" cy="139.0" r="2.5" fill="#fff" stroke="#fdd18a" stroke-width="1.6"/>
<circle cx="250.3" cy="137.8" r="2.5" fill="#fff" stroke="#fdd18a" stroke-width="1.6"/>
<circle cx="273.6" cy="145.6" r="2.5" fill="#fff" stroke="#fdd18a" stroke-width="1.6"/>
<circle cx="296.8" cy="166.9" r="2.5" fill="#fff" stroke="#fdd18a" stroke-width="1.6"/>
<circle cx="320.1" cy="195.2" r="2.5" fill="#fff" stroke="#fdd18a" stroke-width="1.6"/>
<circle cx="343.3" cy="215.2" r="2.5" fill="#fff" stroke="#fdd18a" stroke-width="1.6"/>
<circle cx="366.6" cy="209.4" r="2.5" fill="#fff" stroke="#fdd18a" stroke-width="1.6"/>
<circle cx="389.9" cy="197.0" r="2.5" fill="#fff" stroke="#fdd18a" stroke-width="1.6"/>
<circle cx="413.1" cy="190.4" r="2.5" fill="#fff" stroke="#fdd18a" stroke-width="1.6"/>
<circle cx="436.4" cy="213.5" r="2.5" fill="#fff" stroke="#fdd18a" stroke-width="1.6"/>
<circle cx="459.6" cy="220.3" r="2.5" fill="#fff" stroke="#fdd18a" stroke-width="1.6"/>
<circle cx="482.9" cy="225.6" r="2.5" fill="#fff" stroke="#fdd18a" stroke-width="1.6"/>
<circle cx="506.2" cy="213.3" r="2.5" fill="#fff" stroke="#fdd18a" stroke-width="1.6"/>
<circle cx="529.4" cy="223.0" r="2.5" fill="#fff" stroke="#fdd18a" stroke-width="1.6"/>
<circle cx="552.7" cy="220.9" r="2.5" fill="#fff" stroke="#fdd18a" stroke-width="1.6"/>
<circle cx="575.9" cy="234.7" r="2.5" fill="#fff" stroke="#fdd18a" stroke-width="1.6"/>
<circle cx="599.2" cy="237.4" r="2.5" fill="#fff" stroke="#fdd18a" stroke-width="1.6"/>
<circle cx="622.5" cy="247.0" r="2.5" fill="#fff" stroke="#fdd18a" stroke-width="1.6"/>
<circle cx="645.7" cy="251.7" r="2.5" fill="#fff" stroke="#fdd18a" stroke-width="1.6"/>
<circle cx="669.0" cy="253.5" r="2.5" fill="#fff" stroke="#fdd18a" stroke-width="1.6"/>
<circle cx="692.2" cy="260.8" r="2.5" fill="#fff" stroke="#fdd18a" stroke-width="1.6"/>
<circle cx="715.5" cy="271.6" r="2.5" fill="#fff" stroke="#fdd18a" stroke-width="1.6"/>
<circle cx="738.8" cy="262.6" r="2.5" fill="#fff" stroke="#fdd18a" stroke-width="1.6"/>
<circle cx="762.0" cy="266.1" r="2.5" fill="#fff" stroke="#fdd18a" stroke-width="1.6"/>
<circle cx="785.3" cy="260.2" r="2.5" fill="#fff" stroke="#fdd18a" stroke-width="1.6"/>
<circle cx="808.5" cy="265.8" r="2.5" fill="#fff" stroke="#fdd18a" stroke-width="1.6"/>
<circle cx="831.8" cy="277.3" r="2.5" fill="#fff" stroke="#fdd18a" stroke-width="1.6"/>
<circle cx="855.1" cy="250.8" r="2.5" fill="#fff" stroke="#fdd18a" stroke-width="1.6"/>
<circle cx="878.3" cy="244.1" r="2.5" fill="#fff" stroke="#fdd18a" stroke-width="1.6"/>
<circle cx="901.6" cy="249.4" r="2.5" fill="#fff" stroke="#fdd18a" stroke-width="1.6"/>
<circle cx="924.8" cy="248.9" r="2.5" fill="#fff" stroke="#fdd18a" stroke-width="1.6"/>
<circle cx="948.1" cy="237.3" r="2.5" fill="#fff" stroke="#fdd18a" stroke-width="1.6"/>
<circle cx="960.0" cy="245.6" r="2.5" fill="#fff" stroke="#fdd18a" stroke-width="1.6"/>
<polyline points="134.0,134.2 134.9,134.6 135.8,133.6 136.7,135.8 137.6,135.0 138.5,136.2 139.4,137.0 140.0,137.2 141.2,133.8 142.1,133.8 142.9,133.6 143.8,132.2 144.7,130.5 146.0,131.3 146.5,130.4 147.4,128.8 148.3,129.3 149.2,128.3 150.1,127.4 151.0,125.4 151.9,126.2 152.8,126.2 153.7,126.0 154.6,123.8 155.5,122.0 156.4,120.8 157.3,118.7 158.2,119.4 159.1,121.6 159.9,121.6 160.8,121.6 161.7,121.2 162.6,123.2 163.7,123.4 164.4,125.3 165.3,129.0 166.2,130.1 167.1,133.4 168.0,131.3 168.9,132.3 169.8,128.7 170.7,130.0 171.6,126.6 172.7,124.6 173.4,125.0 174.3,126.6 175.2,127.0 176.0,128.4 177.0,128.9 177.8,129.2 178.8,131.4 179.6,133.5 180.5,134.2 181.4,134.4 182.3,134.6 183.2,133.4 184.1,133.3 185.0,131.3 185.9,129.8 186.8,131.9 188.0,129.6 188.6,134.8 189.5,140.8 190.4,148.0 191.6,152.2 192.2,149.0 193.1,150.2 194.0,147.2 195.0,143.1 195.8,143.4 196.6,140.4 197.5,142.7 198.4,140.1 199.0,140.1 200.2,142.9 201.1,144.1 202.0,146.0 202.9,146.2 203.8,147.8 204.7,148.1 205.6,146.6 206.5,144.8 207.4,141.6 208.0,143.1 209.2,146.4 210.1,144.2 211.0,143.9 212.0,146.0 212.8,145.8 213.7,144.6 214.5,144.6 215.4,141.8 216.0,143.1 217.2,143.0 218.1,143.8 219.0,144.4 220.0,144.5 220.8,144.9 221.7,145.1 222.6,146.1 223.5,143.2 224.4,146.4 225.3,150.1 226.2,148.2 227.0,145.4 228.0,145.6 228.9,144.5 229.8,144.3 230.7,144.0 232.0,143.1 233.3,142.1 234.2,140.6 235.1,141.3 236.0,141.4 236.9,138.6 238.0,140.1 238.7,139.7 239.6,141.9 240.5,139.6 241.4,140.4 242.0,143.1 243.2,144.3 244.1,146.1 245.0,145.8 246.0,146.0 246.8,147.5 247.7,148.8 248.6,150.1 249.4,150.1 250.3,148.6 251.2,146.9 252.1,147.0 253.0,148.0 253.9,145.6 255.0,144.5 255.7,144.2 256.6,142.9 257.5,141.6 258.4,142.4 259.0,143.1 260.2,142.7 261.1,142.4 262.0,143.3 263.0,141.6 263.8,141.4 264.7,140.5 266.0,143.1 267.3,139.6 268.2,138.1 269.1,136.5 270.0,134.2 270.9,136.9 271.8,139.1 272.7,140.6 273.6,141.0 274.5,142.9 275.4,143.6 276.3,145.7 277.2,144.8 278.0,144.5 279.0,144.9 279.9,146.5 280.8,148.8 281.7,147.5 283.0,146.0 284.3,145.8 285.2,147.6 286.1,148.6 287.0,149.4 288.0,148.9 288.8,148.6 289.7,150.3 290.6,149.2 291.5,150.2 292.0,150.4 293.3,150.6 294.2,151.9 295.1,153.3 296.0,156.0 296.8,155.1 297.8,156.1 298.7,155.9 299.6,154.6 300.4,154.4 301.0,154.8 302.2,156.3 303.1,156.0 304.0,155.4 304.9,156.6 306.0,157.8 306.7,157.9 307.6,157.9 308.5,156.3 309.4,155.6 310.0,156.3 311.2,157.7 312.1,157.1 313.0,158.0 314.0,157.8 314.8,159.5 315.7,158.5 317.0,160.7 318.4,167.4 319.2,173.9 320.1,178.6 321.0,176.6 321.9,174.1 323.0,172.4 323.7,175.9 324.6,179.3 326.0,184.2 327.3,183.5 328.2,185.9 329.1,184.7 330.0,184.2 330.9,182.8 331.8,181.9 332.7,183.2 334.0,181.2 335.4,183.0 336.2,185.5 337.1,185.7 338.0,187.1 338.9,188.1 339.8,189.8 340.7,192.6 341.6,194.7 342.5,194.9 343.3,196.8 344.3,202.7 345.5,207.7 346.1,205.3 347.0,201.9 347.9,199.6 349.0,195.9 349.7,193.1 350.6,194.3 351.5,192.5 352.4,196.4 353.2,198.8 354.1,196.4 355.0,195.9 355.9,194.7 356.8,194.9 357.7,194.4 358.6,196.1 360.0,193.0 361.3,193.8 362.2,194.2 363.1,193.4 364.0,191.6 364.9,191.4 365.8,190.9 366.6,191.2 367.6,190.7 368.5,189.7 369.4,188.0 370.3,187.0 371.1,184.1 372.0,184.2 372.9,184.6 373.8,181.5 374.7,183.0 375.6,181.3 376.5,182.3 377.4,179.8 378.0,181.2 379.2,179.0 380.1,177.4 381.0,175.6 381.9,175.6 382.8,175.5 384.0,172.4 384.6,174.5 385.5,171.0 386.4,170.9 387.0,169.5 388.1,173.8 389.1,176.2 389.9,178.3 390.8,175.4 391.7,177.8 392.6,176.5 394.0,175.4 395.3,176.8 396.2,176.6 397.1,179.6 398.0,178.3 398.9,179.5 399.8,178.6 400.7,177.5 401.6,177.0 402.5,179.8 403.4,180.5 404.0,181.2 405.2,182.2 406.1,184.4 406.9,186.0 408.0,184.2 408.7,183.9 409.6,184.1 410.5,184.8 411.4,183.7 412.3,185.8 413.1,185.7 414.1,185.4 415.0,185.9 415.9,186.4 416.8,186.1 418.0,187.1 418.6,187.4 419.5,188.1 420.4,188.9 421.3,187.7 422.2,190.1 423.1,190.3 424.0,193.0 424.9,192.4 425.7,193.7 426.6,193.3 427.5,195.2 428.4,194.0 429.3,195.9 430.0,195.9 431.1,197.7 432.0,197.9 432.9,197.9 433.8,198.2 434.7,198.7 435.6,200.7 436.4,202.4 437.4,203.9 438.3,203.3 439.2,203.4 440.1,205.2 441.0,204.8 441.9,205.0 442.7,206.5 443.6,209.3 444.5,209.8 445.4,212.7 446.3,214.4 447.0,213.6 448.1,215.7 449.0,219.6 449.9,220.6 450.8,223.7 452.0,224.1 452.6,221.6 453.5,219.7 454.4,216.2 455.3,214.9 456.0,210.6 457.1,212.5 458.0,212.1 458.9,212.9 459.6,214.7 460.6,215.8 461.5,212.9 462.4,211.1 463.3,211.1 464.0,210.6 465.1,207.8 466.0,209.0 466.9,208.1 467.8,205.7 468.7,203.8 470.0,204.8 471.4,201.5 472.3,202.8 473.2,203.9 474.1,201.5 475.0,202.0 476.0,198.9 476.8,199.9 477.6,201.9 478.5,200.5 479.4,200.3 480.0,201.8 481.2,201.2 482.1,201.8 482.9,202.4 483.9,201.6 484.8,201.4 485.7,200.2 486.6,199.4 487.5,198.4 488.0,198.9 489.3,198.0 490.2,194.7 491.1,194.4 492.0,192.6 492.9,191.2 494.0,193.0 494.6,192.6 495.5,193.0 496.4,189.2 497.3,188.4 498.2,186.9 499.1,185.8 500.0,184.2 500.9,184.2 501.8,185.8 502.7,185.4 503.6,185.7 504.5,185.4 505.4,188.0 506.2,185.1 507.2,185.0 508.1,185.1 509.0,187.7 509.9,188.2 510.8,187.6 512.0,187.1 512.5,186.8 513.4,187.5 514.3,186.5 515.2,187.7 516.1,189.8 517.0,190.7 518.0,190.1 518.8,189.8 519.7,191.2 520.6,190.5 521.5,190.1 522.4,190.6 523.3,190.6 524.0,193.0 525.1,193.4 526.0,193.9 526.9,195.1 527.8,195.9 528.6,197.7 529.4,195.6 530.4,196.2 531.3,196.6 532.2,197.0 533.1,195.2 534.0,193.6 535.0,193.0 535.8,193.2 536.7,191.2 537.6,190.5 538.5,189.9 539.4,191.4 540.3,193.2 541.0,191.5 542.1,190.6 543.0,190.0 543.9,188.9 544.8,188.6 545.7,187.1 547.0,188.6 548.3,188.8 549.2,188.2 550.1,189.7 551.0,192.3 551.9,191.6 552.7,189.5 553.7,189.6 554.6,193.5 555.5,193.1 556.4,195.5 557.0,195.9 558.2,197.1 559.1,197.2 560.0,197.3 560.9,198.9 561.8,198.7 563.0,198.9 563.6,198.7 564.5,198.4 565.4,200.2 566.2,198.8 567.1,197.7 568.0,196.8 569.0,201.8 569.8,203.3 570.7,203.4 571.6,206.2 572.5,205.4 573.4,205.1 574.3,207.3 575.2,209.3 576.0,207.4 577.0,206.9 577.9,205.5 578.8,206.1 579.7,205.5 580.6,207.6 581.5,206.3 582.0,203.3 583.2,201.7 584.1,200.1 585.0,197.0 586.0,197.4 586.8,199.9 587.7,203.8 588.6,203.4 590.0,204.8 591.3,204.9 592.2,203.6 593.1,202.2 594.0,201.3 595.0,201.8 595.8,200.6 596.7,200.6 597.6,204.5 598.5,205.1 599.2,205.3 600.2,203.2 601.1,204.9 602.0,204.2 602.9,205.1 603.8,206.1 605.0,206.2 605.6,204.2 606.5,203.6 607.4,204.7 608.3,203.8 609.2,205.9 610.1,206.2 611.0,204.8 611.9,201.1 612.8,198.7 614.0,195.3 614.6,196.6 615.5,195.7 616.4,195.4 617.2,194.1 618.0,195.9 619.0,197.2 619.9,200.4 620.8,203.5 621.7,205.7 622.5,207.4 623.5,207.8 624.4,206.0 625.3,204.8 626.2,204.5 627.1,205.5 628.0,207.7 628.9,207.8 629.8,207.0 630.7,208.1 631.6,208.2 632.5,210.5 633.4,210.5 634.0,209.2 635.1,208.0 636.0,210.1 636.9,211.9 637.8,211.4 638.7,209.1 640.0,210.6 640.5,208.9 641.4,210.6 642.3,211.8 643.2,212.2 644.1,213.5 645.0,213.3 645.8,213.0 646.8,213.8 647.7,215.7 648.6,215.9 649.5,215.8 650.4,216.6 651.5,215.3 652.1,218.1 653.0,217.9 653.9,217.3 654.8,220.3 655.7,222.8 656.6,223.8 657.3,225.6 658.4,224.7 659.3,224.7 660.2,221.7 661.1,222.5 662.0,222.2 663.0,220.0 663.8,221.0 664.7,221.6 665.6,221.2 666.5,220.0 667.4,218.3 668.3,218.3 669.1,220.0 670.0,220.0 670.9,221.8 671.8,221.5 672.7,222.5 673.6,222.2 674.5,220.9 675.4,221.1 676.8,222.1 678.1,223.2 679.0,224.7 679.9,225.0 680.8,225.3 681.7,227.0 682.6,227.8 683.5,226.8 684.4,229.6 685.3,230.1 686.0,229.1 687.0,231.6 688.0,229.8 688.8,230.3 689.7,231.0 690.6,231.8 691.5,232.8 692.3,234.4 693.3,233.4 694.2,235.1 695.1,233.7 696.0,232.3 696.9,233.8 697.8,231.7 698.7,231.5 699.6,231.4 700.5,234.2 701.4,234.8 702.3,235.3 703.2,236.1 704.4,235.9 705.0,235.9 705.9,238.0 706.7,238.1 707.6,237.8 708.5,237.3 709.4,238.0 710.3,239.0 711.3,239.4 712.1,237.6 713.0,239.2 713.9,236.2 714.8,235.4 715.6,234.1 716.6,238.6 717.5,241.0 718.4,245.2 719.0,244.1 720.2,243.1 721.1,239.2 722.0,234.1 722.9,233.9 723.7,230.9 724.6,230.4 725.5,229.9 726.4,228.6 727.0,225.3 728.2,223.0 729.1,223.1 730.0,223.7 730.9,224.3 732.0,222.4 732.7,223.6 733.6,222.6 734.5,221.3 735.4,219.5 736.3,218.3 737.2,218.5 738.1,219.5 738.9,219.1 739.9,220.5 740.8,223.1 741.6,223.1 742.5,221.6 743.4,221.7 744.0,220.9 745.2,220.5 746.1,222.0 747.0,220.2 747.9,219.9 748.8,219.9 749.7,219.4 750.2,220.0 751.5,223.1 752.4,223.0 753.3,223.4 754.2,220.7 755.1,221.7 756.0,222.4 756.9,223.3 757.8,222.3 758.6,224.2 759.5,222.5 760.4,224.2 761.3,224.6 762.1,224.7 763.1,224.2 764.0,221.3 764.9,222.6 765.8,219.3 766.5,217.7 767.6,218.3 768.5,217.4 769.4,218.2 770.3,216.9 771.2,216.0 772.1,214.9 773.4,215.0 774.8,214.2 775.6,213.5 776.9,214.1 777.4,213.1 778.3,214.7 779.2,216.7 780.1,218.2 781.0,216.9 782.0,217.1 782.8,218.0 783.7,217.0 784.6,217.9 785.4,218.9 786.4,220.4 787.3,219.3 788.2,217.7 789.1,219.5 790.0,221.6 790.9,222.8 791.8,222.1 792.6,221.5 793.5,222.8 794.4,223.4 795.3,222.5 796.2,222.9 797.1,223.2 798.0,224.2 798.9,224.9 799.8,224.5 801.0,224.4 801.6,224.5 802.5,224.1 803.4,225.3 804.3,225.1 805.2,225.0 806.1,225.5 807.0,225.3 807.9,224.8 808.7,226.8 809.7,226.6 810.5,227.1 811.5,228.8 812.3,228.3 813.2,228.7 814.1,229.3 814.8,229.1 815.9,230.6 816.8,229.7 817.7,227.1 818.6,228.2 819.5,229.4 820.4,229.8 821.7,231.5 823.1,232.5 824.0,232.4 824.9,233.4 825.8,234.1 826.7,233.6 827.5,233.5 828.5,233.9 829.3,235.1 830.2,234.7 831.1,236.1 831.9,235.0 832.9,234.7 833.8,235.8 834.7,236.1 835.6,235.6 836.5,235.7 837.4,238.1 838.3,238.3 839.2,237.9 840.0,238.2 841.0,240.3 841.9,243.3 842.8,242.6 843.7,242.5 844.6,242.2 845.5,242.8 846.4,243.4 847.0,244.1 848.1,244.4 849.3,245.3 849.9,241.7 851.0,240.0 851.7,234.3 852.6,228.0 853.6,222.4 854.4,209.0 855.2,195.1 856.1,181.8 857.1,188.9 858.0,197.2 858.5,202.1 859.8,199.2 860.6,198.9 862.0,204.8 863.4,205.2 864.2,202.5 865.0,200.3 866.0,200.6 866.9,201.0 867.6,200.3 869.0,202.4 869.6,200.1 870.5,199.0 871.4,198.5 872.3,198.1 873.2,196.5 874.1,193.1 875.0,191.9 875.9,190.8 876.8,191.2 878.1,189.5 879.5,190.2 880.2,193.0 881.2,195.4 882.1,198.9 883.0,201.8 883.9,202.9 884.8,205.7 885.8,204.8 886.6,203.0 887.5,203.1 888.6,200.3 889.3,199.2 890.2,199.6 891.4,198.9 892.0,200.9 892.8,201.8 893.8,199.8 894.7,198.1 895.6,198.0 896.3,195.6 897.4,198.3 898.4,200.3 899.1,199.7 900.0,200.3 900.9,201.9 901.7,200.3 902.7,200.1 903.6,200.3 904.5,199.6 905.4,198.3 906.7,196.5 907.2,199.2 908.1,203.8 909.0,208.0 909.9,210.7 910.8,210.0 911.7,210.6 912.6,211.5 913.6,211.5 914.4,210.6 915.2,207.4 916.1,208.9 917.0,207.7 917.9,209.3 918.8,207.2 919.7,207.7 921.0,206.2 921.5,204.8 922.4,206.4 923.3,206.7 924.2,205.2 925.0,205.6 926.0,204.0 926.9,203.6 927.8,203.2 928.7,203.4 930.0,203.3 931.4,202.5 932.3,201.8 933.1,199.3 934.0,198.2 935.0,198.9 935.8,198.4 936.7,197.8 937.6,196.8 938.5,195.8 939.4,196.6 940.0,197.4 941.2,196.6 942.1,195.7 943.0,192.4 943.9,193.0 945.0,194.5 945.7,192.8 946.6,195.7 947.5,194.6 948.3,195.3 949.3,197.8 950.2,199.2 951.0,199.9 952.0,198.9 952.8,200.0 953.7,200.2 954.6,200.4 956.0,201.8 957.3,202.2 958.2,203.3 959.1,200.6 960.0,203.9" fill="none" stroke="#6ccfd6" stroke-width="2.6" stroke-linejoin="round"/>
<circle cx="134.0" cy="134.2" r="2.5" fill="#fff" stroke="#6ccfd6" stroke-width="1.6"/>
<circle cx="157.3" cy="118.7" r="2.5" fill="#fff" stroke="#6ccfd6" stroke-width="1.6"/>
<circle cx="180.5" cy="134.2" r="2.5" fill="#fff" stroke="#6ccfd6" stroke-width="1.6"/>
<circle cx="203.8" cy="147.7" r="2.5" fill="#fff" stroke="#6ccfd6" stroke-width="1.6"/>
<circle cx="227.0" cy="145.4" r="2.5" fill="#fff" stroke="#6ccfd6" stroke-width="1.6"/>
<circle cx="250.3" cy="148.6" r="2.5" fill="#fff" stroke="#6ccfd6" stroke-width="1.6"/>
<circle cx="273.6" cy="140.9" r="2.5" fill="#fff" stroke="#6ccfd6" stroke-width="1.6"/>
<circle cx="296.8" cy="155.1" r="2.5" fill="#fff" stroke="#6ccfd6" stroke-width="1.6"/>
<circle cx="320.1" cy="178.5" r="2.5" fill="#fff" stroke="#6ccfd6" stroke-width="1.6"/>
<circle cx="343.3" cy="197.0" r="2.5" fill="#fff" stroke="#6ccfd6" stroke-width="1.6"/>
<circle cx="366.6" cy="191.2" r="2.5" fill="#fff" stroke="#6ccfd6" stroke-width="1.6"/>
<circle cx="389.9" cy="178.2" r="2.5" fill="#fff" stroke="#6ccfd6" stroke-width="1.6"/>
<circle cx="413.1" cy="185.7" r="2.5" fill="#fff" stroke="#6ccfd6" stroke-width="1.6"/>
<circle cx="436.4" cy="202.4" r="2.5" fill="#fff" stroke="#6ccfd6" stroke-width="1.6"/>
<circle cx="459.6" cy="214.7" r="2.5" fill="#fff" stroke="#6ccfd6" stroke-width="1.6"/>
<circle cx="482.9" cy="202.4" r="2.5" fill="#fff" stroke="#6ccfd6" stroke-width="1.6"/>
<circle cx="506.2" cy="185.1" r="2.5" fill="#fff" stroke="#6ccfd6" stroke-width="1.6"/>
<circle cx="529.4" cy="195.6" r="2.5" fill="#fff" stroke="#6ccfd6" stroke-width="1.6"/>
<circle cx="552.7" cy="189.5" r="2.5" fill="#fff" stroke="#6ccfd6" stroke-width="1.6"/>
<circle cx="575.9" cy="207.3" r="2.5" fill="#fff" stroke="#6ccfd6" stroke-width="1.6"/>
<circle cx="599.2" cy="205.3" r="2.5" fill="#fff" stroke="#6ccfd6" stroke-width="1.6"/>
<circle cx="622.5" cy="207.3" r="2.5" fill="#fff" stroke="#6ccfd6" stroke-width="1.6"/>
<circle cx="645.7" cy="212.9" r="2.5" fill="#fff" stroke="#6ccfd6" stroke-width="1.6"/>
<circle cx="669.0" cy="220.0" r="2.5" fill="#fff" stroke="#6ccfd6" stroke-width="1.6"/>
<circle cx="692.2" cy="234.4" r="2.5" fill="#fff" stroke="#6ccfd6" stroke-width="1.6"/>
<circle cx="715.5" cy="234.2" r="2.5" fill="#fff" stroke="#6ccfd6" stroke-width="1.6"/>
<circle cx="738.8" cy="219.2" r="2.5" fill="#fff" stroke="#6ccfd6" stroke-width="1.6"/>
<circle cx="762.0" cy="224.7" r="2.5" fill="#fff" stroke="#6ccfd6" stroke-width="1.6"/>
<circle cx="785.3" cy="218.8" r="2.5" fill="#fff" stroke="#6ccfd6" stroke-width="1.6"/>
<circle cx="808.5" cy="226.7" r="2.5" fill="#fff" stroke="#6ccfd6" stroke-width="1.6"/>
<circle cx="831.8" cy="235.0" r="2.5" fill="#fff" stroke="#6ccfd6" stroke-width="1.6"/>
<circle cx="855.1" cy="197.4" r="2.5" fill="#fff" stroke="#6ccfd6" stroke-width="1.6"/>
<circle cx="878.3" cy="189.8" r="2.5" fill="#fff" stroke="#6ccfd6" stroke-width="1.6"/>
<circle cx="901.6" cy="200.3" r="2.5" fill="#fff" stroke="#6ccfd6" stroke-width="1.6"/>
<circle cx="924.8" cy="205.7" r="2.5" fill="#fff" stroke="#6ccfd6" stroke-width="1.6"/>
<circle cx="948.1" cy="195.3" r="2.5" fill="#fff" stroke="#6ccfd6" stroke-width="1.6"/>
<circle cx="960.0" cy="203.9" r="2.5" fill="#fff" stroke="#6ccfd6" stroke-width="1.6"/>
<polyline points="134.0,134.2 134.9,133.3 135.8,131.9 137.0,131.3 137.6,130.6 138.5,128.1 139.4,125.1 140.0,125.1 141.2,128.0 142.0,131.3 142.9,132.2 143.8,137.2 144.7,135.5 146.0,131.3 146.5,130.1 147.4,128.8 148.3,127.2 149.0,124.0 150.1,124.5 151.0,124.0 151.6,124.0 152.8,117.8 153.4,115.5 154.6,113.3 155.5,109.6 156.4,108.9 157.3,110.8 158.2,114.2 159.1,115.2 160.0,116.6 160.8,116.7 161.7,116.1 163.0,113.7 163.5,113.7 164.4,117.3 165.3,122.8 166.0,122.5 167.1,120.8 168.0,119.9 168.9,120.0 170.0,116.6 170.7,116.6 171.6,114.8 172.5,112.1 173.4,110.3 174.0,107.8 175.2,110.2 176.1,109.5 177.0,113.7 177.8,113.9 178.8,114.2 179.6,113.5 180.5,111.9 181.4,109.6 182.3,110.0 183.2,107.0 184.0,107.8 185.0,107.8 185.9,107.2 186.8,105.0 188.0,101.9 188.6,107.6 189.5,114.4 190.0,116.6 191.5,125.7 192.2,122.5 193.1,118.3 194.0,115.1 194.8,112.3 195.4,110.2 196.6,108.2 197.5,108.3 198.4,109.2 199.6,109.6 200.2,110.3 201.1,115.8 202.0,119.0 202.9,121.2 203.8,123.7 204.7,121.2 205.6,120.1 206.5,119.5 207.0,118.1 208.3,117.0 209.6,116.6 211.0,120.3 212.0,121.9 212.8,121.2 213.7,120.1 214.4,116.6 215.4,115.2 216.8,116.6 218.1,120.0 219.0,120.3 220.0,123.7 220.8,119.8 221.6,117.5 222.6,117.7 223.2,117.5 224.4,118.8 225.3,120.4 226.2,122.2 227.0,124.3 228.0,126.7 228.9,126.5 229.8,125.7 230.7,126.0 231.6,127.8 232.4,124.7 233.3,121.8 234.2,120.8 235.1,117.5 236.0,119.6 236.9,120.6 237.8,120.0 238.7,122.5 240.0,118.1 241.4,118.5 242.3,119.1 243.2,117.5 244.1,119.6 245.0,121.0 245.9,123.4 246.8,120.4 247.7,122.2 248.6,123.0 249.4,121.9 250.3,120.2 251.2,118.9 252.1,119.1 253.0,118.1 253.9,119.9 255.0,116.6 255.7,113.7 256.6,113.3 257.5,112.3 258.0,112.2 259.3,112.3 260.2,113.1 261.1,113.8 262.0,115.2 262.9,116.0 263.8,115.3 264.7,114.0 266.0,113.7 267.3,110.7 268.2,110.4 269.1,109.6 270.0,109.0 270.9,110.7 271.8,112.4 272.7,114.8 273.6,117.8 274.5,118.5 275.4,119.5 276.3,118.1 277.0,119.6 278.1,120.1 279.0,121.2 280.0,122.5 280.8,120.8 281.7,125.3 283.0,134.2 284.3,133.0 285.2,133.9 286.1,136.1 287.0,135.7 287.9,134.8 288.8,136.0 290.0,137.2 290.6,137.4 291.5,136.7 292.4,136.6 293.3,137.8 294.2,139.1 295.1,137.2 296.0,138.5 296.8,141.6 297.8,144.8 298.7,145.4 300.0,148.9 301.4,150.6 302.2,152.0 303.0,153.3 304.0,150.9 304.9,149.7 306.0,148.9 306.7,145.9 307.6,146.5 308.5,146.7 309.4,145.4 310.0,147.5 311.2,147.3 312.1,145.3 313.0,146.0 313.9,147.6 314.8,147.8 316.0,151.9 316.6,154.6 317.5,156.6 318.4,161.7 319.2,164.3 320.1,165.4 321.0,165.1 321.9,163.8 323.0,163.6 323.7,163.0 324.6,164.5 326.0,172.4 327.3,175.5 328.2,177.3 329.1,176.2 330.0,178.3 330.9,176.7 331.8,178.0 333.0,175.4 333.6,176.2 334.5,179.9 335.4,182.4 336.2,185.2 337.0,184.2 338.0,188.0 338.9,187.3 340.0,193.0 340.7,191.8 341.6,191.9 342.5,188.4 343.3,191.5 344.3,198.6 345.0,203.6 346.1,201.0 347.0,199.0 348.0,195.9 348.8,194.3 349.7,193.6 350.6,190.3 351.5,190.2 352.0,190.1 353.2,188.3 354.1,187.7 355.0,188.5 356.0,187.1 356.8,187.3 357.7,185.4 358.6,186.8 360.0,181.2 361.3,179.2 362.2,177.1 363.0,175.4 364.0,174.9 364.9,174.8 365.8,174.0 366.6,174.2 367.6,172.4 368.5,169.4 369.4,169.8 370.0,166.6 371.1,164.8 372.1,165.7 372.9,164.1 374.0,163.6 374.7,163.7 375.6,163.3 376.5,163.3 377.4,160.2 378.0,160.7 379.2,159.3 380.1,158.4 381.0,155.1 382.0,151.9 382.8,150.9 383.7,150.1 385.0,148.9 386.4,153.4 387.3,155.8 388.1,156.0 389.1,159.6 389.9,160.4 390.8,159.0 391.7,157.5 393.0,157.8 393.5,157.7 394.4,160.2 395.3,157.7 396.2,159.0 397.0,160.7 398.0,159.3 398.9,159.1 400.0,157.8 400.7,159.5 401.6,160.0 402.5,159.9 403.4,161.5 404.0,160.7 405.2,159.5 406.1,156.9 406.9,156.0 408.0,156.3 408.7,156.2 409.6,154.8 410.5,154.3 411.4,154.0 412.3,156.1 413.1,156.3 414.1,159.1 415.0,157.5 416.0,157.8 416.8,158.9 417.7,160.7 418.6,161.2 419.5,163.2 420.0,163.6 421.3,165.4 422.2,163.3 423.1,166.9 424.0,166.6 424.9,165.0 425.7,163.4 426.6,161.3 428.0,163.6 429.3,164.7 430.2,165.7 431.1,168.8 432.0,169.5 432.9,171.2 433.8,175.6 434.7,176.8 435.6,177.5 436.4,177.7 437.4,179.0 438.3,180.4 439.2,179.3 440.0,181.2 440.9,184.6 441.9,184.8 442.7,186.3 444.0,187.1 444.5,186.8 445.4,186.1 446.3,182.9 447.2,184.7 448.0,184.2 449.0,185.3 449.9,186.8 450.8,190.8 452.0,195.6 452.6,194.0 453.5,191.9 454.4,188.8 455.0,184.2 456.2,182.7 457.1,187.2 458.0,186.5 458.9,187.9 459.6,187.4 460.6,183.2 461.5,182.2 462.4,183.1 463.0,181.2 464.2,183.3 465.1,183.5 466.0,184.2 466.9,184.7 467.8,186.7 468.7,187.2 470.0,187.1 471.4,185.9 472.3,183.6 473.2,182.0 474.0,181.2 475.0,181.6 475.9,183.2 476.8,182.5 478.0,184.2 478.5,185.0 479.4,186.2 480.3,186.5 481.2,186.7 482.1,187.0 482.9,186.2 483.9,190.2 484.8,188.3 486.0,190.1 486.6,188.3 487.5,185.7 488.4,185.9 489.3,183.9 490.0,184.2 491.1,182.1 492.0,181.0 492.9,177.5 494.0,178.3 494.6,178.2 495.5,176.6 496.4,178.5 497.3,176.2 498.0,175.4 499.1,174.0 500.0,173.9 500.9,172.7 502.0,169.5 502.7,172.2 503.6,171.8 504.5,169.7 505.4,172.1 506.2,167.4 507.2,168.0 508.1,168.2 509.0,171.1 510.0,172.4 510.8,174.7 511.6,176.0 512.5,176.7 513.4,176.5 514.0,173.9 515.2,172.0 516.1,174.9 517.0,174.1 518.0,175.4 518.8,174.2 519.7,176.9 520.6,177.8 521.5,177.3 522.0,178.3 523.3,179.1 524.2,177.1 525.1,174.8 526.0,178.3 526.9,178.6 527.8,180.8 528.6,180.5 529.4,181.5 530.4,181.8 531.3,183.7 532.2,184.2 533.0,184.2 534.0,183.4 534.9,182.1 535.8,180.2 537.0,181.2 537.6,181.1 538.5,182.0 539.4,182.7 540.3,178.1 541.0,178.3 542.1,178.0 543.0,177.6 543.9,173.4 545.0,175.4 545.7,173.9 546.5,172.5 547.5,175.2 548.3,177.6 549.0,178.3 550.1,179.5 551.0,178.8 551.9,178.9 552.7,180.1 553.7,181.6 554.6,180.8 555.5,182.4 556.0,187.1 557.3,188.9 558.2,188.6 559.1,188.5 560.0,190.1 560.9,191.5 561.8,188.8 562.7,189.4 564.0,193.0 565.4,190.6 566.2,192.4 567.1,194.2 568.0,193.0 568.9,192.9 569.8,194.2 570.7,195.7 572.0,195.9 572.5,196.3 573.4,196.3 574.3,196.5 575.2,197.2 576.0,197.4 577.0,196.5 577.9,192.6 578.8,192.5 580.0,195.9 580.6,195.4 581.5,191.8 582.4,192.8 583.0,193.0 584.1,193.1 585.0,192.7 586.0,188.3 586.8,193.0 587.7,191.8 588.6,194.9 590.0,195.9 591.3,197.1 592.2,196.3 593.1,195.0 594.0,193.0 594.9,195.5 595.8,196.1 596.7,196.0 597.6,195.3 598.5,197.4 599.2,196.8 600.2,196.8 601.1,197.2 602.0,197.3 603.0,198.9 603.8,198.8 604.7,199.5 605.6,196.7 607.0,195.9 608.3,194.2 609.2,194.8 610.1,195.0 611.0,193.0 611.9,192.6 612.8,190.6 613.7,191.8 615.0,194.5 616.4,192.3 617.2,194.5 618.1,196.2 619.0,198.9 619.9,199.7 620.8,200.5 621.7,205.1 622.5,205.6 623.5,205.3 624.4,203.5 625.3,206.1 626.0,204.8 627.1,204.2 628.0,203.0 628.9,200.9 630.0,203.3 630.7,201.2 631.6,203.1 632.5,201.6 633.4,205.3 634.0,206.2 635.1,208.4 636.0,206.2 636.9,206.0 638.0,207.7 638.7,209.3 639.6,207.6 640.5,207.1 641.4,207.1 642.0,209.2 643.2,209.7 644.1,211.5 645.0,213.1 645.8,210.0 646.8,211.4 647.7,211.7 648.6,212.5 649.5,213.3 650.4,211.9 651.5,213.0 652.1,215.3 653.0,216.8 653.9,214.5 654.8,217.3 656.0,218.9 656.6,220.3 657.5,219.4 658.4,221.2 659.3,221.8 660.2,217.1 661.1,217.6 662.0,216.5 663.0,213.0 663.8,214.9 664.7,215.2 665.6,215.0 666.5,212.7 667.4,212.7 668.3,210.7 669.1,212.4 670.0,211.2 670.9,213.5 671.8,213.2 672.7,213.9 673.6,214.1 674.5,213.0 675.4,213.6 676.3,213.7 677.2,214.0 678.1,217.8 679.0,217.6 679.9,218.1 680.8,215.6 681.4,217.7 682.6,218.3 683.5,218.8 684.4,219.2 685.3,218.6 686.0,220.0 687.0,222.2 688.0,222.5 688.8,223.0 689.7,223.4 690.6,224.3 691.5,225.5 692.3,225.0 693.3,224.5 694.2,225.7 695.1,222.3 696.0,222.3 696.9,224.5 697.5,222.1 698.7,224.8 699.6,224.7 700.5,226.9 701.0,228.0 702.3,229.2 703.2,232.9 704.1,230.3 705.0,231.1 705.9,234.5 706.7,232.7 707.6,234.3 708.5,232.6 709.4,233.3 710.3,236.5 711.3,235.9 712.1,237.3 713.0,237.0 713.9,234.7 714.8,236.0 715.6,238.2 716.6,239.2 717.5,242.2 718.4,244.3 719.0,245.9 720.5,252.0 721.1,250.7 722.0,247.6 723.0,240.0 723.7,240.6 724.6,238.4 725.5,233.9 726.4,232.2 727.0,231.2 728.2,228.2 729.1,227.0 730.0,226.6 731.0,226.8 731.8,227.0 732.7,223.6 733.6,222.9 734.5,222.2 735.0,225.3 736.3,220.9 737.2,220.2 738.1,221.4 738.9,223.6 739.9,222.1 740.8,221.4 741.6,218.5 743.0,221.5 744.3,224.4 745.2,227.9 746.1,228.7 747.0,229.1 747.8,229.1 748.8,229.1 749.7,226.5 750.6,225.0 751.5,224.7 752.0,224.7 753.3,225.3 754.2,223.4 755.1,222.4 756.0,222.5 756.9,225.6 758.0,228.2 758.6,226.5 759.5,229.3 760.4,231.8 761.3,228.6 762.1,229.7 763.1,226.2 764.0,223.9 764.9,220.7 765.8,217.8 766.5,220.0 767.6,218.8 768.5,218.8 769.4,218.2 770.3,217.5 771.2,217.9 772.1,220.1 773.4,218.9 774.8,216.0 775.6,218.7 776.5,220.0 777.4,219.3 778.0,220.0 779.2,220.3 780.1,219.9 781.0,217.2 781.9,217.2 782.8,219.8 783.7,220.3 784.6,221.2 785.4,222.1 786.4,220.6 787.3,223.0 788.2,224.5 789.1,226.4 790.0,224.7 790.9,224.1 791.8,224.4 792.6,224.0 793.5,223.9 794.4,226.8 795.3,227.5 796.2,229.1 797.1,227.2 798.0,226.9 798.9,230.0 799.8,229.4 801.0,230.3 801.6,230.2 802.5,230.3 803.4,229.6 804.3,231.1 805.2,231.6 806.1,232.4 807.0,232.9 807.9,233.8 808.7,231.8 809.7,231.2 810.5,231.5 811.5,233.1 812.3,236.1 813.2,232.8 814.1,234.3 814.8,235.9 815.9,236.0 816.8,235.7 817.7,234.4 818.6,236.6 819.4,238.2 820.4,241.9 821.3,241.7 822.2,241.4 823.1,242.4 824.0,241.8 824.9,240.2 825.8,241.8 826.7,241.7 827.5,243.2 828.5,242.1 829.3,243.5 830.2,242.3 831.1,242.7 831.9,243.5 832.9,243.5 833.8,243.6 834.7,246.3 835.6,246.4 836.5,245.7 837.4,246.3 838.3,244.6 839.2,244.3 840.0,246.5 841.0,247.4 841.9,245.8 842.8,247.0 843.7,246.7 844.6,245.8 845.5,248.5 846.4,249.8 847.0,248.8 848.1,249.6 849.3,250.0 849.9,248.3 850.8,247.5 851.5,242.9 852.6,231.0 853.5,222.4 854.4,214.4 855.2,208.0 856.2,201.4 856.7,198.6 858.0,204.6 858.5,207.7 859.8,211.7 860.7,216.8 861.3,218.9 862.5,214.9 863.4,212.8 864.2,210.5 864.8,208.0 866.0,209.7 866.9,207.9 867.6,209.2 868.7,213.3 869.6,213.7 870.4,211.8 871.4,209.6 872.3,208.7 873.2,208.0 874.1,204.7 874.6,204.8 875.9,204.3 876.8,203.1 878.1,200.6 879.5,203.5 880.4,206.5 881.0,207.7 882.1,209.8 883.0,210.4 884.4,211.8 885.7,209.7 886.6,210.9 887.5,209.4 888.6,209.2 889.3,208.8 890.2,208.8 891.1,209.9 892.0,206.3 892.8,207.1 893.8,205.5 894.7,204.9 895.6,205.1 896.3,204.8 897.4,204.3 898.2,207.6 899.0,209.2 900.0,210.9 900.9,211.7 901.7,210.3 902.7,210.7 903.6,210.2 905.0,210.6 906.3,216.1 907.2,216.5 908.1,217.6 909.0,219.4 909.9,218.5 910.8,220.1 911.7,218.8 913.0,221.8 914.4,217.0 915.2,217.8 916.1,217.4 917.0,216.5 917.9,214.4 918.8,212.8 919.7,213.2 921.0,213.6 921.5,211.5 922.4,213.9 923.3,211.7 924.2,210.9 925.0,211.5 926.0,209.2 926.9,208.3 927.8,207.1 929.0,207.7 929.6,207.5 930.5,204.9 931.4,207.7 932.3,205.9 933.0,204.8 934.0,204.9 934.9,201.2 935.8,203.0 937.0,201.8 937.6,201.2 938.5,200.6 939.4,198.9 940.3,198.7 941.0,198.9 942.1,200.6 943.0,200.5 943.9,198.8 945.0,200.3 945.7,198.6 946.6,199.3 947.5,200.1 948.3,197.7 949.3,200.3 950.2,200.2 951.0,200.5 952.0,200.3 952.8,201.2 953.7,202.0 954.6,201.6 956.0,201.8 957.3,200.7 958.2,200.5 959.1,202.5 960.0,203.6" fill="none" stroke="#999999" stroke-width="2.6" stroke-linejoin="round"/>
<circle cx="134.0" cy="134.2" r="2.5" fill="#fff" stroke="#999999" stroke-width="1.6"/>
<circle cx="157.3" cy="110.8" r="2.5" fill="#fff" stroke="#999999" stroke-width="1.6"/>
<circle cx="180.5" cy="111.9" r="2.5" fill="#fff" stroke="#999999" stroke-width="1.6"/>
<circle cx="203.8" cy="123.6" r="2.5" fill="#fff" stroke="#999999" stroke-width="1.6"/>
<circle cx="227.0" cy="124.3" r="2.5" fill="#fff" stroke="#999999" stroke-width="1.6"/>
<circle cx="250.3" cy="120.2" r="2.5" fill="#fff" stroke="#999999" stroke-width="1.6"/>
<circle cx="273.6" cy="117.7" r="2.5" fill="#fff" stroke="#999999" stroke-width="1.6"/>
<circle cx="296.8" cy="141.6" r="2.5" fill="#fff" stroke="#999999" stroke-width="1.6"/>
<circle cx="320.1" cy="165.3" r="2.5" fill="#fff" stroke="#999999" stroke-width="1.6"/>
<circle cx="343.3" cy="191.8" r="2.5" fill="#fff" stroke="#999999" stroke-width="1.6"/>
<circle cx="366.6" cy="174.2" r="2.5" fill="#fff" stroke="#999999" stroke-width="1.6"/>
<circle cx="389.9" cy="160.3" r="2.5" fill="#fff" stroke="#999999" stroke-width="1.6"/>
<circle cx="413.1" cy="156.3" r="2.5" fill="#fff" stroke="#999999" stroke-width="1.6"/>
<circle cx="436.4" cy="177.7" r="2.5" fill="#fff" stroke="#999999" stroke-width="1.6"/>
<circle cx="459.6" cy="187.3" r="2.5" fill="#fff" stroke="#999999" stroke-width="1.6"/>
<circle cx="482.9" cy="186.2" r="2.5" fill="#fff" stroke="#999999" stroke-width="1.6"/>
<circle cx="506.2" cy="167.5" r="2.5" fill="#fff" stroke="#999999" stroke-width="1.6"/>
<circle cx="529.4" cy="181.6" r="2.5" fill="#fff" stroke="#999999" stroke-width="1.6"/>
<circle cx="552.7" cy="180.1" r="2.5" fill="#fff" stroke="#999999" stroke-width="1.6"/>
<circle cx="575.9" cy="197.4" r="2.5" fill="#fff" stroke="#999999" stroke-width="1.6"/>
<circle cx="599.2" cy="196.8" r="2.5" fill="#fff" stroke="#999999" stroke-width="1.6"/>
<circle cx="622.5" cy="205.6" r="2.5" fill="#fff" stroke="#999999" stroke-width="1.6"/>
<circle cx="645.7" cy="210.0" r="2.5" fill="#fff" stroke="#999999" stroke-width="1.6"/>
<circle cx="669.0" cy="212.4" r="2.5" fill="#fff" stroke="#999999" stroke-width="1.6"/>
<circle cx="692.2" cy="225.0" r="2.5" fill="#fff" stroke="#999999" stroke-width="1.6"/>
<circle cx="715.5" cy="238.2" r="2.5" fill="#fff" stroke="#999999" stroke-width="1.6"/>
<circle cx="738.8" cy="223.6" r="2.5" fill="#fff" stroke="#999999" stroke-width="1.6"/>
<circle cx="762.0" cy="229.7" r="2.5" fill="#fff" stroke="#999999" stroke-width="1.6"/>
<circle cx="785.3" cy="222.0" r="2.5" fill="#fff" stroke="#999999" stroke-width="1.6"/>
<circle cx="808.5" cy="231.7" r="2.5" fill="#fff" stroke="#999999" stroke-width="1.6"/>
<circle cx="831.8" cy="243.5" r="2.5" fill="#fff" stroke="#999999" stroke-width="1.6"/>
<circle cx="855.1" cy="209.2" r="2.5" fill="#fff" stroke="#999999" stroke-width="1.6"/>
<circle cx="878.3" cy="201.2" r="2.5" fill="#fff" stroke="#999999" stroke-width="1.6"/>
<circle cx="901.6" cy="210.3" r="2.5" fill="#fff" stroke="#999999" stroke-width="1.6"/>
<circle cx="924.8" cy="211.6" r="2.5" fill="#fff" stroke="#999999" stroke-width="1.6"/>
<circle cx="948.1" cy="197.9" r="2.5" fill="#fff" stroke="#999999" stroke-width="1.6"/>
<circle cx="960.0" cy="203.6" r="2.5" fill="#fff" stroke="#999999" stroke-width="1.6"/>
<text transform="translate(133.0,319.6) rotate(-60.0)" text-anchor="end" dominant-baseline="central" font-size="15.8" letter-spacing="0.3" fill="#333">0</text>
<text transform="translate(156.3,319.6) rotate(-60.0)" text-anchor="end" dominant-baseline="central" font-size="15.8" letter-spacing="0.3" fill="#333">2021-06-01</text>
<text transform="translate(179.5,319.6) rotate(-60.0)" text-anchor="end" dominant-baseline="central" font-size="15.8" letter-spacing="0.3" fill="#333">2021-07-09</text>
<text transform="translate(202.8,319.6) rotate(-60.0)" text-anchor="end" dominant-baseline="central" font-size="15.8" letter-spacing="0.3" fill="#333">2021-08-17</text>
<text transform="translate(226.0,319.6) rotate(-60.0)" text-anchor="end" dominant-baseline="central" font-size="15.8" letter-spacing="0.3" fill="#333">2021-09-27</text>
<text transform="translate(249.3,319.6) rotate(-60.0)" text-anchor="end" dominant-baseline="central" font-size="15.8" letter-spacing="0.3" fill="#333">2021-11-10</text>
<text transform="translate(272.6,319.6) rotate(-60.0)" text-anchor="end" dominant-baseline="central" font-size="15.8" letter-spacing="0.3" fill="#333">2021-12-17</text>
<text transform="translate(295.8,319.6) rotate(-60.0)" text-anchor="end" dominant-baseline="central" font-size="15.8" letter-spacing="0.3" fill="#333">2022-01-26</text>
<text transform="translate(319.1,319.6) rotate(-60.0)" text-anchor="end" dominant-baseline="central" font-size="15.8" letter-spacing="0.3" fill="#333">2022-03-11</text>
<text transform="translate(342.3,319.6) rotate(-60.0)" text-anchor="end" dominant-baseline="central" font-size="15.8" letter-spacing="0.3" fill="#333">2022-04-21</text>
<text transform="translate(365.6,319.6) rotate(-60.0)" text-anchor="end" dominant-baseline="central" font-size="15.8" letter-spacing="0.3" fill="#333">2022-06-02</text>
<text transform="translate(388.9,319.6) rotate(-60.0)" text-anchor="end" dominant-baseline="central" font-size="15.8" letter-spacing="0.3" fill="#333">2022-07-12</text>
<text transform="translate(412.1,319.6) rotate(-60.0)" text-anchor="end" dominant-baseline="central" font-size="15.8" letter-spacing="0.3" fill="#333">2022-08-18</text>
<text transform="translate(435.4,319.6) rotate(-60.0)" text-anchor="end" dominant-baseline="central" font-size="15.8" letter-spacing="0.3" fill="#333">2022-09-27</text>
<text transform="translate(458.6,319.6) rotate(-60.0)" text-anchor="end" dominant-baseline="central" font-size="15.8" letter-spacing="0.3" fill="#333">2022-11-10</text>
<text transform="translate(481.9,319.6) rotate(-60.0)" text-anchor="end" dominant-baseline="central" font-size="15.8" letter-spacing="0.3" fill="#333">2022-12-19</text>
<text transform="translate(505.2,319.6) rotate(-60.0)" text-anchor="end" dominant-baseline="central" font-size="15.8" letter-spacing="0.3" fill="#333">2023-02-02</text>
<text transform="translate(528.4,319.6) rotate(-60.0)" text-anchor="end" dominant-baseline="central" font-size="15.8" letter-spacing="0.3" fill="#333">2023-03-13</text>
<text transform="translate(551.7,319.6) rotate(-60.0)" text-anchor="end" dominant-baseline="central" font-size="15.8" letter-spacing="0.3" fill="#333">2023-04-20</text>
<text transform="translate(574.9,319.6) rotate(-60.0)" text-anchor="end" dominant-baseline="central" font-size="15.8" letter-spacing="0.3" fill="#333">2023-06-01</text>
<text transform="translate(598.2,319.6) rotate(-60.0)" text-anchor="end" dominant-baseline="central" font-size="15.8" letter-spacing="0.3" fill="#333">2023-07-12</text>
<text transform="translate(621.5,319.6) rotate(-60.0)" text-anchor="end" dominant-baseline="central" font-size="15.8" letter-spacing="0.3" fill="#333">2023-08-18</text>
<text transform="translate(644.7,319.6) rotate(-60.0)" text-anchor="end" dominant-baseline="central" font-size="15.8" letter-spacing="0.3" fill="#333">2023-09-26</text>
<text transform="translate(668.0,319.6) rotate(-60.0)" text-anchor="end" dominant-baseline="central" font-size="15.8" letter-spacing="0.3" fill="#333">2023-11-10</text>
<text transform="translate(691.2,319.6) rotate(-60.0)" text-anchor="end" dominant-baseline="central" font-size="15.8" letter-spacing="0.3" fill="#333">2023-12-19</text>
<text transform="translate(714.5,319.6) rotate(-60.0)" text-anchor="end" dominant-baseline="central" font-size="15.8" letter-spacing="0.3" fill="#333">2024-01-26</text>
<text transform="translate(737.8,319.6) rotate(-60.0)" text-anchor="end" dominant-baseline="central" font-size="15.8" letter-spacing="0.3" fill="#333">2024-03-13</text>
<text transform="translate(761.0,319.6) rotate(-60.0)" text-anchor="end" dominant-baseline="central" font-size="15.8" letter-spacing="0.3" fill="#333">2024-04-23</text>
<text transform="translate(784.3,319.6) rotate(-60.0)" text-anchor="end" dominant-baseline="central" font-size="15.8" letter-spacing="0.3" fill="#333">2024-06-04</text>
<text transform="translate(807.5,319.6) rotate(-60.0)" text-anchor="end" dominant-baseline="central" font-size="15.8" letter-spacing="0.3" fill="#333">2024-07-12</text>
<text transform="translate(830.8,319.6) rotate(-60.0)" text-anchor="end" dominant-baseline="central" font-size="15.8" letter-spacing="0.3" fill="#333">2024-08-20</text>
<text transform="translate(854.1,319.6) rotate(-60.0)" text-anchor="end" dominant-baseline="central" font-size="15.8" letter-spacing="0.3" fill="#333">2024-09-30</text>
<text transform="translate(877.3,319.6) rotate(-60.0)" text-anchor="end" dominant-baseline="central" font-size="15.8" letter-spacing="0.3" fill="#333">2024-11-13</text>
<text transform="translate(900.6,319.6) rotate(-60.0)" text-anchor="end" dominant-baseline="central" font-size="15.8" letter-spacing="0.3" fill="#333">2024-12-20</text>
<text transform="translate(923.8,319.6) rotate(-60.0)" text-anchor="end" dominant-baseline="central" font-size="15.8" letter-spacing="0.3" fill="#333">2025-02-06</text>
<text transform="translate(959.0,319.6) rotate(-60.0)" text-anchor="end" dominant-baseline="central" font-size="15.8" letter-spacing="0.3" fill="#333">2025-04-03</text>
<line x1="252" y1="461" x2="283" y2="461" stroke="#7a9edb" stroke-width="2" stroke-opacity="0.85"/>
<circle cx="267.7" cy="461" r="6.8" fill="#fff" stroke="#7a9edb" stroke-width="1.3" stroke-opacity="0.9"/>
<text x="290.0" y="465" font-size="15" fill="#333">长盛成长龙头混合A</text>
<line x1="433" y1="461" x2="464" y2="461" stroke="#fdd18a" stroke-width="2" stroke-opacity="0.85"/>
<circle cx="448.7" cy="461" r="6.8" fill="#fff" stroke="#fdd18a" stroke-width="1.3" stroke-opacity="0.9"/>
<text x="471.0" y="465" font-size="15" fill="#333">同类平均</text>
<line x1="544" y1="461" x2="575" y2="461" stroke="#6ccfd6" stroke-width="2" stroke-opacity="0.85"/>
<circle cx="559.7" cy="461" r="6.8" fill="#fff" stroke="#6ccfd6" stroke-width="1.3" stroke-opacity="0.9"/>
<text x="581.5" y="465" font-size="15" fill="#333">沪深300</text>
<line x1="651" y1="461" x2="682" y2="461" stroke="#999999" stroke-width="2" stroke-opacity="0.85"/>
<circle cx="666.7" cy="461" r="6.8" fill="#fff" stroke="#999999" stroke-width="1.3" stroke-opacity="0.9"/>
<text x="688.5" y="465" font-size="15" fill="#333">偏股基金</text>
<text x="500" y="497.5" text-anchor="middle" font-size="11.3" fill="#c8983e">制图数据来自恒生聚源数据库</text>
</svg></body></html>
